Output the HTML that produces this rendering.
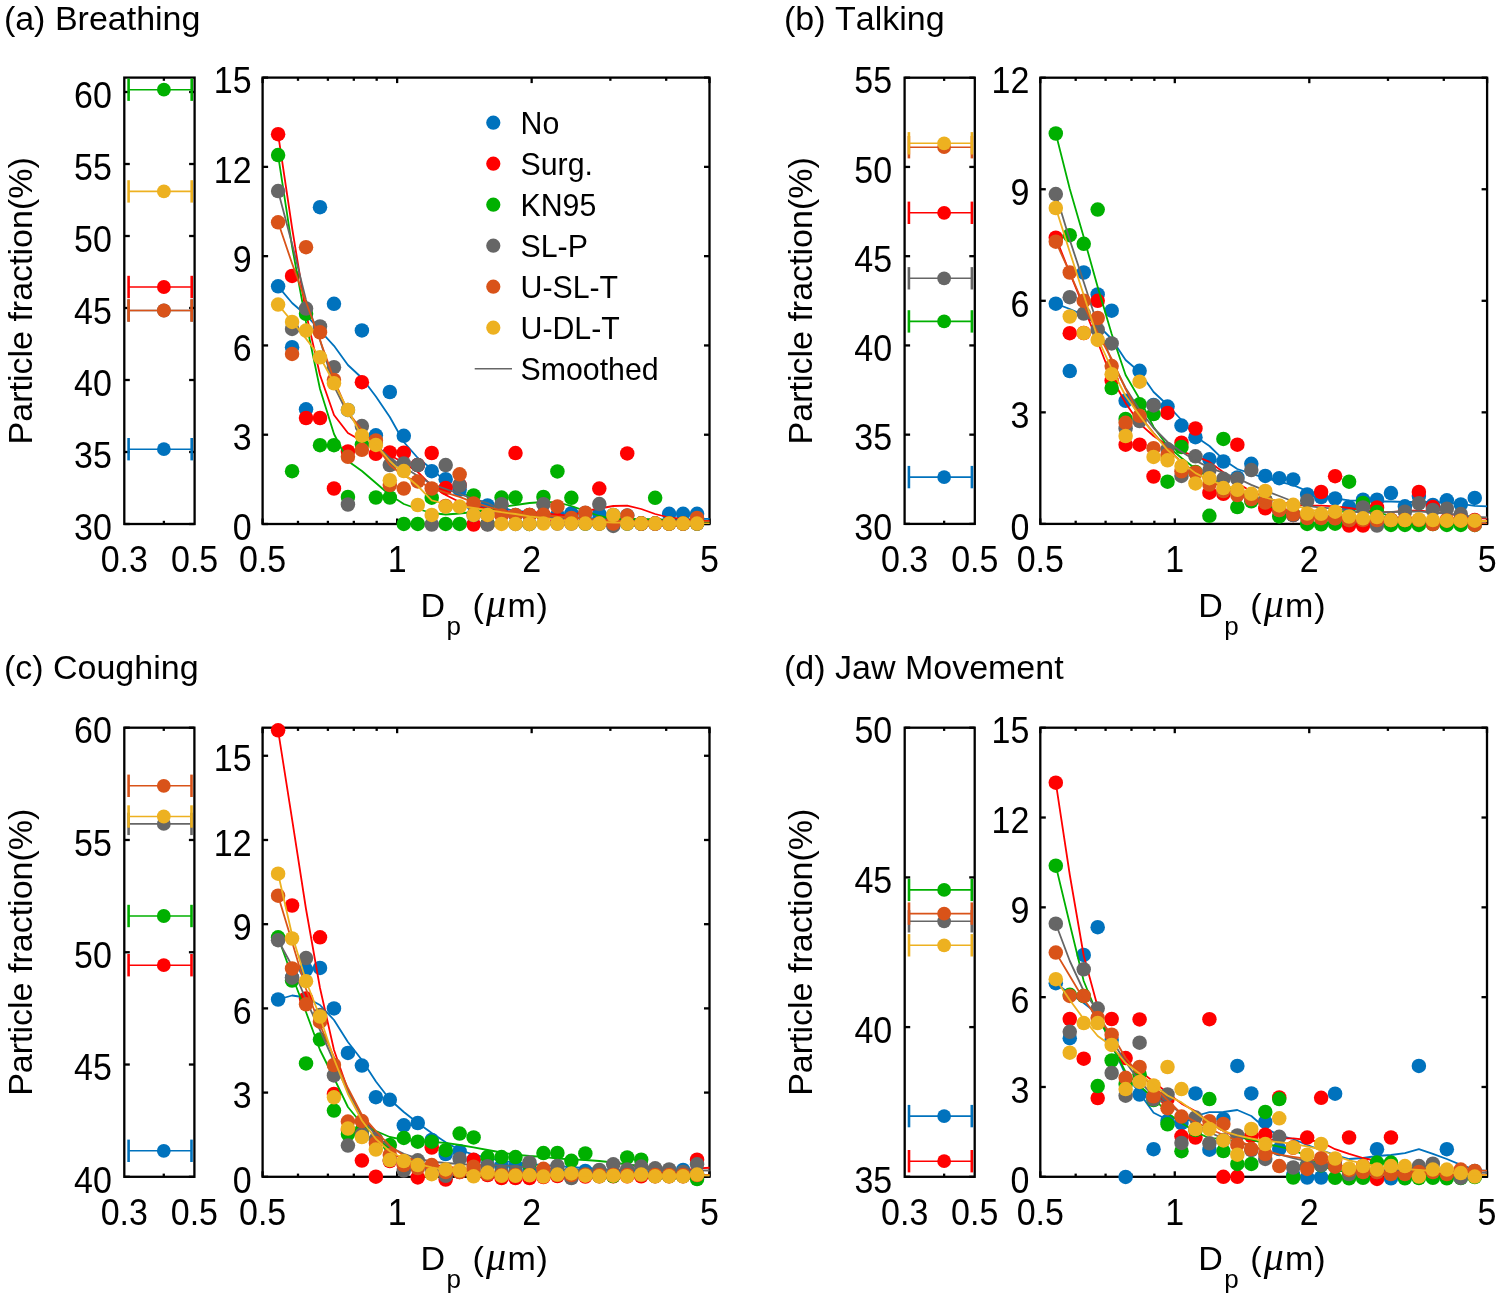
<!DOCTYPE html>
<html><head><meta charset="utf-8"><style>
html,body{margin:0;padding:0;background:#fff;}
svg{display:block;will-change:transform;}
.t{font-family:"Liberation Sans", sans-serif;font-size:34px;fill:#000;font-kerning:none;}
.l{font-family:"Liberation Sans", sans-serif;font-size:30.3px;fill:#000;font-kerning:none;}
.ax{stroke:#000;stroke-width:2.3;}
.fr{fill:none;stroke:#000;stroke-width:2.3;}
</style></head><body>
<svg width="1499" height="1298" viewBox="0 0 1499 1298">
<rect width="1499" height="1298" fill="#fff"/>
<text x="3.9" y="30.1" class="t">(a) Breathing</text>
<text transform="translate(31.6,300.8) rotate(-90)" text-anchor="middle" class="t">Particle fraction(%)</text>
<text x="420.6" y="617.2" class="t">D</text>
<text x="446.6" y="634.9" class="t" style="font-size:26px">p</text>
<text x="472.6" y="617.2" class="t">(</text>
<text x="486.0" y="617.2" class="t" style="font-family:&quot;Liberation Serif&quot;,serif;font-style:italic;font-size:40px">μ</text>
<text x="507.4" y="617.2" class="t">m</text>
<text x="536.5" y="617.2" class="t">)</text>
<clipPath id="clipa"><rect x="262.6" y="77.6" width="446.90" height="446.40"/></clipPath>
<rect x="124.3" y="77.6" width="70.30" height="446.40" class="fr"/>
<rect x="262.6" y="77.6" width="446.90" height="446.40" class="fr"/>
<line x1="262.6" y1="524.00" x2="268.1" y2="524.00" class="ax"/>
<line x1="709.5" y1="524.00" x2="704.0" y2="524.00" class="ax"/>
<text transform="translate(251.60,539.70) scale(1,1.088)" text-anchor="end" class="t">0</text>
<line x1="262.6" y1="434.72" x2="268.1" y2="434.72" class="ax"/>
<line x1="709.5" y1="434.72" x2="704.0" y2="434.72" class="ax"/>
<text transform="translate(251.60,450.42) scale(1,1.088)" text-anchor="end" class="t">3</text>
<line x1="262.6" y1="345.44" x2="268.1" y2="345.44" class="ax"/>
<line x1="709.5" y1="345.44" x2="704.0" y2="345.44" class="ax"/>
<text transform="translate(251.60,361.14) scale(1,1.088)" text-anchor="end" class="t">6</text>
<line x1="262.6" y1="256.16" x2="268.1" y2="256.16" class="ax"/>
<line x1="709.5" y1="256.16" x2="704.0" y2="256.16" class="ax"/>
<text transform="translate(251.60,271.86) scale(1,1.088)" text-anchor="end" class="t">9</text>
<line x1="262.6" y1="166.88" x2="268.1" y2="166.88" class="ax"/>
<line x1="709.5" y1="166.88" x2="704.0" y2="166.88" class="ax"/>
<text transform="translate(251.60,182.58) scale(1,1.088)" text-anchor="end" class="t">12</text>
<line x1="262.6" y1="77.60" x2="268.1" y2="77.60" class="ax"/>
<line x1="709.5" y1="77.60" x2="704.0" y2="77.60" class="ax"/>
<text transform="translate(251.60,93.30) scale(1,1.088)" text-anchor="end" class="t">15</text>
<line x1="262.60" y1="524.0" x2="262.60" y2="518.5" class="ax"/>
<line x1="262.60" y1="77.6" x2="262.60" y2="83.1" class="ax"/>
<line x1="297.99" y1="524.0" x2="297.99" y2="520.8" class="ax"/>
<line x1="297.99" y1="77.6" x2="297.99" y2="80.8" class="ax"/>
<line x1="327.90" y1="524.0" x2="327.90" y2="520.8" class="ax"/>
<line x1="327.90" y1="77.6" x2="327.90" y2="80.8" class="ax"/>
<line x1="353.82" y1="524.0" x2="353.82" y2="520.8" class="ax"/>
<line x1="353.82" y1="77.6" x2="353.82" y2="80.8" class="ax"/>
<line x1="376.68" y1="524.0" x2="376.68" y2="520.8" class="ax"/>
<line x1="376.68" y1="77.6" x2="376.68" y2="80.8" class="ax"/>
<line x1="397.13" y1="524.0" x2="397.13" y2="518.5" class="ax"/>
<line x1="397.13" y1="77.6" x2="397.13" y2="83.1" class="ax"/>
<line x1="531.66" y1="524.0" x2="531.66" y2="518.5" class="ax"/>
<line x1="531.66" y1="77.6" x2="531.66" y2="83.1" class="ax"/>
<line x1="610.36" y1="524.0" x2="610.36" y2="520.8" class="ax"/>
<line x1="610.36" y1="77.6" x2="610.36" y2="80.8" class="ax"/>
<line x1="666.19" y1="524.0" x2="666.19" y2="520.8" class="ax"/>
<line x1="666.19" y1="77.6" x2="666.19" y2="80.8" class="ax"/>
<line x1="709.50" y1="524.0" x2="709.50" y2="518.5" class="ax"/>
<line x1="709.50" y1="77.6" x2="709.50" y2="83.1" class="ax"/>
<text transform="translate(262.60,572.40) scale(1,1.088)" text-anchor="middle" class="t">0.5</text>
<text transform="translate(397.13,572.40) scale(1,1.088)" text-anchor="middle" class="t">1</text>
<text transform="translate(531.66,572.40) scale(1,1.088)" text-anchor="middle" class="t">2</text>
<text transform="translate(709.50,572.40) scale(1,1.088)" text-anchor="middle" class="t">5</text>
<line x1="124.3" y1="524.00" x2="129.8" y2="524.00" class="ax"/>
<line x1="194.6" y1="524.00" x2="189.1" y2="524.00" class="ax"/>
<text transform="translate(111.80,539.70) scale(1,1.088)" text-anchor="end" class="t">30</text>
<line x1="124.3" y1="452.00" x2="129.8" y2="452.00" class="ax"/>
<line x1="194.6" y1="452.00" x2="189.1" y2="452.00" class="ax"/>
<text transform="translate(111.80,467.70) scale(1,1.088)" text-anchor="end" class="t">35</text>
<line x1="124.3" y1="380.00" x2="129.8" y2="380.00" class="ax"/>
<line x1="194.6" y1="380.00" x2="189.1" y2="380.00" class="ax"/>
<text transform="translate(111.80,395.70) scale(1,1.088)" text-anchor="end" class="t">40</text>
<line x1="124.3" y1="308.00" x2="129.8" y2="308.00" class="ax"/>
<line x1="194.6" y1="308.00" x2="189.1" y2="308.00" class="ax"/>
<text transform="translate(111.80,323.70) scale(1,1.088)" text-anchor="end" class="t">45</text>
<line x1="124.3" y1="236.00" x2="129.8" y2="236.00" class="ax"/>
<line x1="194.6" y1="236.00" x2="189.1" y2="236.00" class="ax"/>
<text transform="translate(111.80,251.70) scale(1,1.088)" text-anchor="end" class="t">50</text>
<line x1="124.3" y1="164.00" x2="129.8" y2="164.00" class="ax"/>
<line x1="194.6" y1="164.00" x2="189.1" y2="164.00" class="ax"/>
<text transform="translate(111.80,179.70) scale(1,1.088)" text-anchor="end" class="t">55</text>
<line x1="124.3" y1="92.00" x2="129.8" y2="92.00" class="ax"/>
<line x1="194.6" y1="92.00" x2="189.1" y2="92.00" class="ax"/>
<text transform="translate(111.80,107.70) scale(1,1.088)" text-anchor="end" class="t">60</text>
<line x1="163.89" y1="524.0" x2="163.89" y2="520.8" class="ax"/>
<line x1="163.89" y1="77.6" x2="163.89" y2="80.8" class="ax"/>
<text transform="translate(124.30,572.40) scale(1,1.088)" text-anchor="middle" class="t">0.3</text>
<text transform="translate(194.60,572.40) scale(1,1.088)" text-anchor="middle" class="t">0.5</text>
<g stroke="#0072BD" fill="#0072BD"><line x1="128.6" y1="449.2" x2="191.7" y2="449.2" stroke-width="1.6"/><line x1="128.6" y1="438.0" x2="128.6" y2="460.4" stroke-width="2.6"/><line x1="191.7" y1="438.0" x2="191.7" y2="460.4" stroke-width="2.6"/><circle cx="163.89" cy="449.2" r="6.9" stroke="none"/></g>
<g stroke="#FF0000" fill="#FF0000"><line x1="128.6" y1="287.0" x2="191.7" y2="287.0" stroke-width="1.6"/><line x1="128.6" y1="275.8" x2="128.6" y2="298.2" stroke-width="2.6"/><line x1="191.7" y1="275.8" x2="191.7" y2="298.2" stroke-width="2.6"/><circle cx="163.89" cy="287.0" r="6.9" stroke="none"/></g>
<g stroke="#00B000" fill="#00B000"><line x1="128.6" y1="89.7" x2="191.7" y2="89.7" stroke-width="1.6"/><line x1="128.6" y1="78.5" x2="128.6" y2="100.9" stroke-width="2.6"/><line x1="191.7" y1="78.5" x2="191.7" y2="100.9" stroke-width="2.6"/><circle cx="163.89" cy="89.7" r="6.9" stroke="none"/></g>
<g stroke="#666666" fill="#666666"><line x1="128.6" y1="310.5" x2="191.7" y2="310.5" stroke-width="1.6"/><line x1="128.6" y1="299.3" x2="128.6" y2="321.7" stroke-width="2.6"/><line x1="191.7" y1="299.3" x2="191.7" y2="321.7" stroke-width="2.6"/><circle cx="163.89" cy="310.5" r="6.9" stroke="none"/></g>
<g stroke="#D95319" fill="#D95319"><line x1="128.6" y1="310.5" x2="191.7" y2="310.5" stroke-width="1.6"/><line x1="128.6" y1="299.3" x2="128.6" y2="321.7" stroke-width="2.6"/><line x1="191.7" y1="299.3" x2="191.7" y2="321.7" stroke-width="2.6"/><circle cx="163.89" cy="310.5" r="6.9" stroke="none"/></g>
<g stroke="#EDB120" fill="#EDB120"><line x1="128.6" y1="191.4" x2="191.7" y2="191.4" stroke-width="1.6"/><line x1="128.6" y1="180.2" x2="128.6" y2="202.6" stroke-width="2.6"/><line x1="191.7" y1="180.2" x2="191.7" y2="202.6" stroke-width="2.6"/><circle cx="163.89" cy="191.4" r="6.9" stroke="none"/></g>
<g fill="#0072BD"><circle cx="278.10" cy="286.3" r="7.25"/><circle cx="292.06" cy="347.2" r="7.25"/><circle cx="306.03" cy="409.3" r="7.25"/><circle cx="320.00" cy="207.2" r="7.25"/><circle cx="333.96" cy="303.8" r="7.25"/><circle cx="347.93" cy="409.9" r="7.25"/><circle cx="361.89" cy="330.4" r="7.25"/><circle cx="375.86" cy="435.3" r="7.25"/><circle cx="389.82" cy="392.0" r="7.25"/><circle cx="403.79" cy="435.8" r="7.25"/><circle cx="417.75" cy="465.1" r="7.25"/><circle cx="431.72" cy="471.2" r="7.25"/><circle cx="445.68" cy="479.2" r="7.25"/><circle cx="459.64" cy="489.7" r="7.25"/><circle cx="473.61" cy="505.0" r="7.25"/><circle cx="487.58" cy="505.4" r="7.25"/><circle cx="501.54" cy="512.0" r="7.25"/><circle cx="515.50" cy="515.0" r="7.25"/><circle cx="529.47" cy="515.0" r="7.25"/><circle cx="543.43" cy="515.0" r="7.25"/><circle cx="557.40" cy="515.0" r="7.25"/><circle cx="571.37" cy="513.3" r="7.25"/><circle cx="585.33" cy="513.0" r="7.25"/><circle cx="599.30" cy="513.8" r="7.25"/><circle cx="613.26" cy="515.0" r="7.25"/><circle cx="627.23" cy="515.6" r="7.25"/><circle cx="641.19" cy="523.6" r="7.25"/><circle cx="655.15" cy="523.6" r="7.25"/><circle cx="669.12" cy="513.8" r="7.25"/><circle cx="683.09" cy="513.8" r="7.25"/><circle cx="697.05" cy="513.8" r="7.25"/></g>
<polyline points="278.1,286.3 292.1,303.0 306.0,315.0 320.0,330.5 334.0,345.8 347.9,365.0 361.9,378.0 375.9,396.5 389.8,417.0 403.8,442.0 417.8,458.0 431.7,469.0 445.7,481.6 459.6,492.0 473.6,498.0 487.6,503.8 501.5,508.0 515.5,510.8 529.5,512.0 543.4,514.3 557.4,516.0 571.4,516.9 585.3,518.0 599.3,518.3 613.3,519.0 627.2,519.8 641.2,520.0 655.2,519.7 669.1,519.5 683.1,519.4 697.0,519.0 711.0,518.9" fill="none" stroke="#0072BD" stroke-width="1.8" stroke-linejoin="round" clip-path="url(#clipa)"/>
<g fill="#FF0000"><circle cx="278.10" cy="134.2" r="7.25"/><circle cx="292.06" cy="275.9" r="7.25"/><circle cx="306.03" cy="418.0" r="7.25"/><circle cx="320.00" cy="418.0" r="7.25"/><circle cx="333.96" cy="488.5" r="7.25"/><circle cx="347.93" cy="451.5" r="7.25"/><circle cx="361.89" cy="382.2" r="7.25"/><circle cx="375.86" cy="453.8" r="7.25"/><circle cx="389.82" cy="452.5" r="7.25"/><circle cx="403.79" cy="452.7" r="7.25"/><circle cx="417.75" cy="465.0" r="7.25"/><circle cx="431.72" cy="453.0" r="7.25"/><circle cx="445.68" cy="487.9" r="7.25"/><circle cx="459.64" cy="485.0" r="7.25"/><circle cx="473.61" cy="524.5" r="7.25"/><circle cx="487.58" cy="524.0" r="7.25"/><circle cx="501.54" cy="515.0" r="7.25"/><circle cx="515.50" cy="453.1" r="7.25"/><circle cx="529.47" cy="515.0" r="7.25"/><circle cx="543.43" cy="515.0" r="7.25"/><circle cx="557.40" cy="520.0" r="7.25"/><circle cx="571.37" cy="523.0" r="7.25"/><circle cx="585.33" cy="523.0" r="7.25"/><circle cx="599.30" cy="488.6" r="7.25"/><circle cx="613.26" cy="520.0" r="7.25"/><circle cx="627.23" cy="453.4" r="7.25"/><circle cx="641.19" cy="523.6" r="7.25"/><circle cx="655.15" cy="523.6" r="7.25"/><circle cx="669.12" cy="523.6" r="7.25"/><circle cx="683.09" cy="523.6" r="7.25"/><circle cx="697.05" cy="523.6" r="7.25"/></g>
<polyline points="278.1,134.2 292.1,228.0 306.0,313.0 320.0,375.0 334.0,415.0 347.9,433.0 361.9,441.0 375.9,448.0 389.8,455.0 403.8,463.0 417.8,472.0 431.7,486.0 445.7,495.0 459.6,502.0 473.6,506.0 487.6,509.0 501.5,511.0 515.5,512.0 529.5,512.0 543.4,512.9 557.4,514.8 571.4,515.3 585.3,511.0 599.3,508.5 613.3,506.0 627.2,505.6 641.2,509.0 655.2,514.0 669.1,517.5 683.1,519.1 697.0,520.6 711.0,521.0" fill="none" stroke="#FF0000" stroke-width="1.8" stroke-linejoin="round" clip-path="url(#clipa)"/>
<g fill="#00B000"><circle cx="278.10" cy="155.1" r="7.25"/><circle cx="292.06" cy="471.2" r="7.25"/><circle cx="306.03" cy="313.8" r="7.25"/><circle cx="320.00" cy="445.2" r="7.25"/><circle cx="333.96" cy="445.2" r="7.25"/><circle cx="347.93" cy="497.0" r="7.25"/><circle cx="361.89" cy="444.6" r="7.25"/><circle cx="375.86" cy="497.5" r="7.25"/><circle cx="389.82" cy="497.5" r="7.25"/><circle cx="403.79" cy="523.9" r="7.25"/><circle cx="417.75" cy="523.9" r="7.25"/><circle cx="431.72" cy="497.7" r="7.25"/><circle cx="445.68" cy="523.9" r="7.25"/><circle cx="459.64" cy="523.9" r="7.25"/><circle cx="473.61" cy="495.5" r="7.25"/><circle cx="487.58" cy="523.9" r="7.25"/><circle cx="501.54" cy="497.6" r="7.25"/><circle cx="515.50" cy="497.6" r="7.25"/><circle cx="529.47" cy="523.9" r="7.25"/><circle cx="543.43" cy="497.0" r="7.25"/><circle cx="557.40" cy="471.4" r="7.25"/><circle cx="571.37" cy="497.8" r="7.25"/><circle cx="585.33" cy="523.6" r="7.25"/><circle cx="599.30" cy="523.6" r="7.25"/><circle cx="613.26" cy="523.6" r="7.25"/><circle cx="627.23" cy="523.6" r="7.25"/><circle cx="641.19" cy="523.6" r="7.25"/><circle cx="655.15" cy="497.8" r="7.25"/><circle cx="669.12" cy="523.6" r="7.25"/><circle cx="683.09" cy="523.6" r="7.25"/><circle cx="697.05" cy="523.6" r="7.25"/></g>
<polyline points="278.1,155.1 292.1,246.8 306.0,322.0 320.0,389.0 334.0,434.0 347.9,461.0 361.9,471.0 375.9,483.0 389.8,495.0 403.8,504.0 417.8,509.0 431.7,513.0 445.7,514.5 459.6,513.5 473.6,512.0 487.6,510.0 501.5,507.0 515.5,505.0 529.5,503.0 543.4,502.0 557.4,502.4 571.4,506.0 585.3,511.0 599.3,516.0 613.3,518.8 627.2,519.0 641.2,518.9 655.2,519.4 669.1,520.2 683.1,521.3 697.0,522.6 711.0,523.0" fill="none" stroke="#00B000" stroke-width="1.8" stroke-linejoin="round" clip-path="url(#clipa)"/>
<g fill="#666666"><circle cx="278.10" cy="191.1" r="7.25"/><circle cx="292.06" cy="328.9" r="7.25"/><circle cx="306.03" cy="308.6" r="7.25"/><circle cx="320.00" cy="326.5" r="7.25"/><circle cx="333.96" cy="367.2" r="7.25"/><circle cx="347.93" cy="504.5" r="7.25"/><circle cx="361.89" cy="426.1" r="7.25"/><circle cx="375.86" cy="443.0" r="7.25"/><circle cx="389.82" cy="465.0" r="7.25"/><circle cx="403.79" cy="463.5" r="7.25"/><circle cx="417.75" cy="465.1" r="7.25"/><circle cx="431.72" cy="524.5" r="7.25"/><circle cx="445.68" cy="465.1" r="7.25"/><circle cx="459.64" cy="485.5" r="7.25"/><circle cx="473.61" cy="515.0" r="7.25"/><circle cx="487.58" cy="524.5" r="7.25"/><circle cx="501.54" cy="504.2" r="7.25"/><circle cx="515.50" cy="523.9" r="7.25"/><circle cx="529.47" cy="523.9" r="7.25"/><circle cx="543.43" cy="504.2" r="7.25"/><circle cx="557.40" cy="523.6" r="7.25"/><circle cx="571.37" cy="523.6" r="7.25"/><circle cx="585.33" cy="523.6" r="7.25"/><circle cx="599.30" cy="504.1" r="7.25"/><circle cx="613.26" cy="525.9" r="7.25"/><circle cx="627.23" cy="523.6" r="7.25"/><circle cx="641.19" cy="523.6" r="7.25"/><circle cx="655.15" cy="523.6" r="7.25"/><circle cx="669.12" cy="523.6" r="7.25"/><circle cx="683.09" cy="523.6" r="7.25"/><circle cx="697.05" cy="523.6" r="7.25"/></g>
<polyline points="278.1,191.1 292.1,243.9 306.0,300.0 320.0,340.0 334.0,386.0 347.9,414.0 361.9,430.0 375.9,445.0 389.8,458.0 403.8,467.0 417.8,476.0 431.7,484.0 445.7,489.0 459.6,494.0 473.6,499.0 487.6,503.0 501.5,510.0 515.5,514.3 529.5,516.4 543.4,517.6 557.4,518.0 571.4,518.0 585.3,518.9 599.3,520.1 613.3,520.6 627.2,521.2 641.2,522.3 655.2,523.0 669.1,523.6 683.1,524.0 697.0,524.4 711.0,524.5" fill="none" stroke="#666666" stroke-width="1.8" stroke-linejoin="round" clip-path="url(#clipa)"/>
<g fill="#D95319"><circle cx="278.10" cy="222.3" r="7.25"/><circle cx="292.06" cy="353.9" r="7.25"/><circle cx="306.03" cy="247.2" r="7.25"/><circle cx="320.00" cy="332.3" r="7.25"/><circle cx="333.96" cy="380.0" r="7.25"/><circle cx="347.93" cy="456.8" r="7.25"/><circle cx="361.89" cy="449.8" r="7.25"/><circle cx="375.86" cy="440.5" r="7.25"/><circle cx="389.82" cy="485.0" r="7.25"/><circle cx="403.79" cy="488.6" r="7.25"/><circle cx="417.75" cy="481.4" r="7.25"/><circle cx="431.72" cy="488.5" r="7.25"/><circle cx="445.68" cy="506.0" r="7.25"/><circle cx="459.64" cy="474.3" r="7.25"/><circle cx="473.61" cy="503.5" r="7.25"/><circle cx="487.58" cy="514.9" r="7.25"/><circle cx="501.54" cy="515.5" r="7.25"/><circle cx="515.50" cy="514.9" r="7.25"/><circle cx="529.47" cy="514.9" r="7.25"/><circle cx="543.43" cy="514.7" r="7.25"/><circle cx="557.40" cy="506.5" r="7.25"/><circle cx="571.37" cy="518.0" r="7.25"/><circle cx="585.33" cy="512.7" r="7.25"/><circle cx="599.30" cy="523.6" r="7.25"/><circle cx="613.26" cy="523.6" r="7.25"/><circle cx="627.23" cy="515.6" r="7.25"/><circle cx="641.19" cy="523.6" r="7.25"/><circle cx="655.15" cy="523.6" r="7.25"/><circle cx="669.12" cy="523.6" r="7.25"/><circle cx="683.09" cy="523.6" r="7.25"/><circle cx="697.05" cy="517.9" r="7.25"/></g>
<polyline points="278.1,222.3 292.1,263.5 306.0,302.0 320.0,340.0 334.0,379.5 347.9,412.0 361.9,430.0 375.9,445.0 389.8,465.0 403.8,476.0 417.8,481.6 431.7,487.8 445.7,492.7 459.6,496.9 473.6,502.4 487.6,506.6 501.5,510.7 515.5,513.2 529.5,514.0 543.4,515.0 557.4,516.5 571.4,517.5 585.3,518.6 599.3,520.0 613.3,520.9 627.2,521.5 641.2,521.5 655.2,521.5 669.1,521.5 683.1,521.5 697.0,521.5 711.0,521.5" fill="none" stroke="#D95319" stroke-width="1.8" stroke-linejoin="round" clip-path="url(#clipa)"/>
<g fill="#EDB120"><circle cx="278.10" cy="304.6" r="7.25"/><circle cx="292.06" cy="321.9" r="7.25"/><circle cx="306.03" cy="330.6" r="7.25"/><circle cx="320.00" cy="357.3" r="7.25"/><circle cx="333.96" cy="383.3" r="7.25"/><circle cx="347.93" cy="409.9" r="7.25"/><circle cx="361.89" cy="435.7" r="7.25"/><circle cx="375.86" cy="444.9" r="7.25"/><circle cx="389.82" cy="480.2" r="7.25"/><circle cx="403.79" cy="471.1" r="7.25"/><circle cx="417.75" cy="505.0" r="7.25"/><circle cx="431.72" cy="514.9" r="7.25"/><circle cx="445.68" cy="506.6" r="7.25"/><circle cx="459.64" cy="506.6" r="7.25"/><circle cx="473.61" cy="514.9" r="7.25"/><circle cx="487.58" cy="514.9" r="7.25"/><circle cx="501.54" cy="523.9" r="7.25"/><circle cx="515.50" cy="523.9" r="7.25"/><circle cx="529.47" cy="523.9" r="7.25"/><circle cx="543.43" cy="523.6" r="7.25"/><circle cx="557.40" cy="523.6" r="7.25"/><circle cx="571.37" cy="523.6" r="7.25"/><circle cx="585.33" cy="523.6" r="7.25"/><circle cx="599.30" cy="523.6" r="7.25"/><circle cx="613.26" cy="515.0" r="7.25"/><circle cx="627.23" cy="523.6" r="7.25"/><circle cx="641.19" cy="523.6" r="7.25"/><circle cx="655.15" cy="523.6" r="7.25"/><circle cx="669.12" cy="523.6" r="7.25"/><circle cx="683.09" cy="523.6" r="7.25"/><circle cx="697.05" cy="523.6" r="7.25"/></g>
<polyline points="278.1,304.6 292.1,321.5 306.0,338.6 320.0,357.0 334.0,383.0 347.9,410.0 361.9,436.3 375.9,444.7 389.8,461.0 403.8,474.0 417.8,486.0 431.7,500.3 445.7,504.0 459.6,506.0 473.6,508.0 487.6,510.0 501.5,512.2 515.5,514.0 529.5,516.3 543.4,518.0 557.4,519.8 571.4,521.0 585.3,521.2 599.3,521.8 613.3,522.5 627.2,522.6 641.2,522.9 655.2,523.5 669.1,523.7 683.1,523.9 697.0,524.0 711.0,524.0" fill="none" stroke="#EDB120" stroke-width="1.8" stroke-linejoin="round" clip-path="url(#clipa)"/>
<text x="784.0" y="30.1" class="t">(b) Talking</text>
<text transform="translate(811.6,300.8) rotate(-90)" text-anchor="middle" class="t">Particle fraction(%)</text>
<text x="1198.3" y="617.2" class="t">D</text>
<text x="1224.3" y="634.9" class="t" style="font-size:26px">p</text>
<text x="1250.3" y="617.2" class="t">(</text>
<text x="1263.7" y="617.2" class="t" style="font-family:&quot;Liberation Serif&quot;,serif;font-style:italic;font-size:40px">μ</text>
<text x="1285.1" y="617.2" class="t">m</text>
<text x="1314.2" y="617.2" class="t">)</text>
<clipPath id="clipb"><rect x="1040.3" y="77.7" width="446.80" height="446.20"/></clipPath>
<rect x="904.6" y="77.7" width="70.20" height="446.20" class="fr"/>
<rect x="1040.3" y="77.7" width="446.80" height="446.20" class="fr"/>
<line x1="1040.3" y1="523.90" x2="1045.8" y2="523.90" class="ax"/>
<line x1="1487.1" y1="523.90" x2="1481.6" y2="523.90" class="ax"/>
<text transform="translate(1029.30,539.60) scale(1,1.088)" text-anchor="end" class="t">0</text>
<line x1="1040.3" y1="412.35" x2="1045.8" y2="412.35" class="ax"/>
<line x1="1487.1" y1="412.35" x2="1481.6" y2="412.35" class="ax"/>
<text transform="translate(1029.30,428.05) scale(1,1.088)" text-anchor="end" class="t">3</text>
<line x1="1040.3" y1="300.80" x2="1045.8" y2="300.80" class="ax"/>
<line x1="1487.1" y1="300.80" x2="1481.6" y2="300.80" class="ax"/>
<text transform="translate(1029.30,316.50) scale(1,1.088)" text-anchor="end" class="t">6</text>
<line x1="1040.3" y1="189.25" x2="1045.8" y2="189.25" class="ax"/>
<line x1="1487.1" y1="189.25" x2="1481.6" y2="189.25" class="ax"/>
<text transform="translate(1029.30,204.95) scale(1,1.088)" text-anchor="end" class="t">9</text>
<line x1="1040.3" y1="77.70" x2="1045.8" y2="77.70" class="ax"/>
<line x1="1487.1" y1="77.70" x2="1481.6" y2="77.70" class="ax"/>
<text transform="translate(1029.30,93.40) scale(1,1.088)" text-anchor="end" class="t">12</text>
<line x1="1040.30" y1="523.9" x2="1040.30" y2="518.4" class="ax"/>
<line x1="1040.30" y1="77.7" x2="1040.30" y2="83.2" class="ax"/>
<line x1="1075.68" y1="523.9" x2="1075.68" y2="520.6999999999999" class="ax"/>
<line x1="1075.68" y1="77.7" x2="1075.68" y2="80.9" class="ax"/>
<line x1="1105.59" y1="523.9" x2="1105.59" y2="520.6999999999999" class="ax"/>
<line x1="1105.59" y1="77.7" x2="1105.59" y2="80.9" class="ax"/>
<line x1="1131.50" y1="523.9" x2="1131.50" y2="520.6999999999999" class="ax"/>
<line x1="1131.50" y1="77.7" x2="1131.50" y2="80.9" class="ax"/>
<line x1="1154.36" y1="523.9" x2="1154.36" y2="520.6999999999999" class="ax"/>
<line x1="1154.36" y1="77.7" x2="1154.36" y2="80.9" class="ax"/>
<line x1="1174.80" y1="523.9" x2="1174.80" y2="518.4" class="ax"/>
<line x1="1174.80" y1="77.7" x2="1174.80" y2="83.2" class="ax"/>
<line x1="1309.30" y1="523.9" x2="1309.30" y2="518.4" class="ax"/>
<line x1="1309.30" y1="77.7" x2="1309.30" y2="83.2" class="ax"/>
<line x1="1387.98" y1="523.9" x2="1387.98" y2="520.6999999999999" class="ax"/>
<line x1="1387.98" y1="77.7" x2="1387.98" y2="80.9" class="ax"/>
<line x1="1443.80" y1="523.9" x2="1443.80" y2="520.6999999999999" class="ax"/>
<line x1="1443.80" y1="77.7" x2="1443.80" y2="80.9" class="ax"/>
<line x1="1487.10" y1="523.9" x2="1487.10" y2="518.4" class="ax"/>
<line x1="1487.10" y1="77.7" x2="1487.10" y2="83.2" class="ax"/>
<text transform="translate(1040.30,572.30) scale(1,1.088)" text-anchor="middle" class="t">0.5</text>
<text transform="translate(1174.80,572.30) scale(1,1.088)" text-anchor="middle" class="t">1</text>
<text transform="translate(1309.30,572.30) scale(1,1.088)" text-anchor="middle" class="t">2</text>
<text transform="translate(1487.10,572.30) scale(1,1.088)" text-anchor="middle" class="t">5</text>
<line x1="904.6" y1="523.90" x2="910.1" y2="523.90" class="ax"/>
<line x1="974.8" y1="523.90" x2="969.3" y2="523.90" class="ax"/>
<text transform="translate(892.10,539.60) scale(1,1.088)" text-anchor="end" class="t">30</text>
<line x1="904.6" y1="434.66" x2="910.1" y2="434.66" class="ax"/>
<line x1="974.8" y1="434.66" x2="969.3" y2="434.66" class="ax"/>
<text transform="translate(892.10,450.36) scale(1,1.088)" text-anchor="end" class="t">35</text>
<line x1="904.6" y1="345.42" x2="910.1" y2="345.42" class="ax"/>
<line x1="974.8" y1="345.42" x2="969.3" y2="345.42" class="ax"/>
<text transform="translate(892.10,361.12) scale(1,1.088)" text-anchor="end" class="t">40</text>
<line x1="904.6" y1="256.18" x2="910.1" y2="256.18" class="ax"/>
<line x1="974.8" y1="256.18" x2="969.3" y2="256.18" class="ax"/>
<text transform="translate(892.10,271.88) scale(1,1.088)" text-anchor="end" class="t">45</text>
<line x1="904.6" y1="166.94" x2="910.1" y2="166.94" class="ax"/>
<line x1="974.8" y1="166.94" x2="969.3" y2="166.94" class="ax"/>
<text transform="translate(892.10,182.64) scale(1,1.088)" text-anchor="end" class="t">50</text>
<line x1="904.6" y1="77.70" x2="910.1" y2="77.70" class="ax"/>
<line x1="974.8" y1="77.70" x2="969.3" y2="77.70" class="ax"/>
<text transform="translate(892.10,93.40) scale(1,1.088)" text-anchor="end" class="t">55</text>
<line x1="944.13" y1="523.9" x2="944.13" y2="520.6999999999999" class="ax"/>
<line x1="944.13" y1="77.7" x2="944.13" y2="80.9" class="ax"/>
<text transform="translate(904.60,572.30) scale(1,1.088)" text-anchor="middle" class="t">0.3</text>
<text transform="translate(974.80,572.30) scale(1,1.088)" text-anchor="middle" class="t">0.5</text>
<g stroke="#0072BD" fill="#0072BD"><line x1="908.9" y1="477.1" x2="971.9" y2="477.1" stroke-width="1.6"/><line x1="908.9" y1="465.9" x2="908.9" y2="488.3" stroke-width="2.6"/><line x1="971.9" y1="465.9" x2="971.9" y2="488.3" stroke-width="2.6"/><circle cx="944.13" cy="477.1" r="6.9" stroke="none"/></g>
<g stroke="#FF0000" fill="#FF0000"><line x1="908.9" y1="212.8" x2="971.9" y2="212.8" stroke-width="1.6"/><line x1="908.9" y1="201.6" x2="908.9" y2="224.0" stroke-width="2.6"/><line x1="971.9" y1="201.6" x2="971.9" y2="224.0" stroke-width="2.6"/><circle cx="944.13" cy="212.8" r="6.9" stroke="none"/></g>
<g stroke="#00B000" fill="#00B000"><line x1="908.9" y1="321.4" x2="971.9" y2="321.4" stroke-width="1.6"/><line x1="908.9" y1="310.2" x2="908.9" y2="332.6" stroke-width="2.6"/><line x1="971.9" y1="310.2" x2="971.9" y2="332.6" stroke-width="2.6"/><circle cx="944.13" cy="321.4" r="6.9" stroke="none"/></g>
<g stroke="#666666" fill="#666666"><line x1="908.9" y1="278.3" x2="971.9" y2="278.3" stroke-width="1.6"/><line x1="908.9" y1="267.1" x2="908.9" y2="289.5" stroke-width="2.6"/><line x1="971.9" y1="267.1" x2="971.9" y2="289.5" stroke-width="2.6"/><circle cx="944.13" cy="278.3" r="6.9" stroke="none"/></g>
<g stroke="#D95319" fill="#D95319"><line x1="908.9" y1="147.2" x2="971.9" y2="147.2" stroke-width="1.6"/><line x1="908.9" y1="136.0" x2="908.9" y2="158.4" stroke-width="2.6"/><line x1="971.9" y1="136.0" x2="971.9" y2="158.4" stroke-width="2.6"/><circle cx="944.13" cy="147.2" r="6.9" stroke="none"/></g>
<g stroke="#EDB120" fill="#EDB120"><line x1="908.9" y1="143.3" x2="971.9" y2="143.3" stroke-width="1.6"/><line x1="908.9" y1="132.1" x2="908.9" y2="154.5" stroke-width="2.6"/><line x1="971.9" y1="132.1" x2="971.9" y2="154.5" stroke-width="2.6"/><circle cx="944.13" cy="143.3" r="6.9" stroke="none"/></g>
<g fill="#0072BD"><circle cx="1055.80" cy="303.7" r="7.25"/><circle cx="1069.76" cy="371.1" r="7.25"/><circle cx="1083.73" cy="272.5" r="7.25"/><circle cx="1097.69" cy="294.5" r="7.25"/><circle cx="1111.66" cy="310.7" r="7.25"/><circle cx="1125.62" cy="400.8" r="7.25"/><circle cx="1139.59" cy="370.8" r="7.25"/><circle cx="1153.55" cy="405.0" r="7.25"/><circle cx="1167.52" cy="406.6" r="7.25"/><circle cx="1181.48" cy="425.6" r="7.25"/><circle cx="1195.45" cy="437.2" r="7.25"/><circle cx="1209.41" cy="459.2" r="7.25"/><circle cx="1223.38" cy="461.5" r="7.25"/><circle cx="1237.35" cy="477.5" r="7.25"/><circle cx="1251.31" cy="463.8" r="7.25"/><circle cx="1265.27" cy="475.9" r="7.25"/><circle cx="1279.24" cy="478.2" r="7.25"/><circle cx="1293.20" cy="479.4" r="7.25"/><circle cx="1307.17" cy="494.4" r="7.25"/><circle cx="1321.13" cy="497.0" r="7.25"/><circle cx="1335.10" cy="498.5" r="7.25"/><circle cx="1349.07" cy="506.9" r="7.25"/><circle cx="1363.03" cy="499.7" r="7.25"/><circle cx="1376.99" cy="499.7" r="7.25"/><circle cx="1390.96" cy="493.1" r="7.25"/><circle cx="1404.92" cy="506.3" r="7.25"/><circle cx="1418.89" cy="496.0" r="7.25"/><circle cx="1432.86" cy="505.0" r="7.25"/><circle cx="1446.82" cy="500.3" r="7.25"/><circle cx="1460.78" cy="504.5" r="7.25"/><circle cx="1474.75" cy="497.9" r="7.25"/></g>
<polyline points="1055.8,303.7 1069.8,309.0 1083.7,315.0 1097.7,325.0 1111.7,339.0 1125.6,360.0 1139.6,372.0 1153.6,392.0 1167.5,405.0 1181.5,420.0 1195.5,436.6 1209.4,446.0 1223.4,459.7 1237.3,469.0 1251.3,473.6 1265.3,478.2 1279.2,481.7 1293.2,485.2 1307.2,491.0 1321.1,496.0 1335.1,498.5 1349.1,500.3 1363.0,500.9 1377.0,501.5 1391.0,501.5 1404.9,502.0 1418.9,502.0 1432.9,502.0 1446.8,502.7 1460.8,503.9 1474.8,505.8 1488.7,506.4" fill="none" stroke="#0072BD" stroke-width="1.8" stroke-linejoin="round" clip-path="url(#clipb)"/>
<g fill="#FF0000"><circle cx="1055.80" cy="237.7" r="7.25"/><circle cx="1069.76" cy="333.2" r="7.25"/><circle cx="1083.73" cy="333.0" r="7.25"/><circle cx="1097.69" cy="300.8" r="7.25"/><circle cx="1111.66" cy="380.6" r="7.25"/><circle cx="1125.62" cy="444.7" r="7.25"/><circle cx="1139.59" cy="444.7" r="7.25"/><circle cx="1153.55" cy="476.5" r="7.25"/><circle cx="1167.52" cy="412.9" r="7.25"/><circle cx="1181.48" cy="442.7" r="7.25"/><circle cx="1195.45" cy="428.5" r="7.25"/><circle cx="1209.41" cy="492.7" r="7.25"/><circle cx="1223.38" cy="493.8" r="7.25"/><circle cx="1237.35" cy="444.7" r="7.25"/><circle cx="1251.31" cy="495.0" r="7.25"/><circle cx="1265.27" cy="508.3" r="7.25"/><circle cx="1279.24" cy="510.0" r="7.25"/><circle cx="1293.20" cy="515.0" r="7.25"/><circle cx="1307.17" cy="515.0" r="7.25"/><circle cx="1321.13" cy="492.0" r="7.25"/><circle cx="1335.10" cy="476.2" r="7.25"/><circle cx="1349.07" cy="525.5" r="7.25"/><circle cx="1363.03" cy="525.5" r="7.25"/><circle cx="1376.99" cy="507.5" r="7.25"/><circle cx="1390.96" cy="520.0" r="7.25"/><circle cx="1404.92" cy="520.0" r="7.25"/><circle cx="1418.89" cy="491.9" r="7.25"/><circle cx="1432.86" cy="506.9" r="7.25"/><circle cx="1446.82" cy="520.0" r="7.25"/><circle cx="1460.78" cy="520.0" r="7.25"/><circle cx="1474.75" cy="520.0" r="7.25"/></g>
<polyline points="1055.8,237.7 1069.8,273.0 1083.7,307.0 1097.7,342.0 1111.7,378.0 1125.6,403.0 1139.6,423.6 1153.6,436.0 1167.5,445.6 1181.5,451.7 1195.5,455.9 1209.4,461.9 1223.4,472.2 1237.3,483.0 1251.3,491.6 1265.3,497.4 1279.2,501.7 1293.2,504.4 1307.2,505.7 1321.1,505.7 1335.1,506.3 1349.1,508.0 1363.0,510.0 1377.0,511.9 1391.0,512.1 1404.9,510.9 1418.9,510.5 1432.9,512.1 1446.8,513.7 1460.8,515.7 1474.8,518.0 1488.7,518.7" fill="none" stroke="#FF0000" stroke-width="1.8" stroke-linejoin="round" clip-path="url(#clipb)"/>
<g fill="#00B000"><circle cx="1055.80" cy="133.5" r="7.25"/><circle cx="1069.76" cy="235.2" r="7.25"/><circle cx="1083.73" cy="243.8" r="7.25"/><circle cx="1097.69" cy="209.6" r="7.25"/><circle cx="1111.66" cy="388.1" r="7.25"/><circle cx="1125.62" cy="419.0" r="7.25"/><circle cx="1139.59" cy="404.3" r="7.25"/><circle cx="1153.55" cy="414.1" r="7.25"/><circle cx="1167.52" cy="481.7" r="7.25"/><circle cx="1181.48" cy="447.0" r="7.25"/><circle cx="1195.45" cy="472.0" r="7.25"/><circle cx="1209.41" cy="515.8" r="7.25"/><circle cx="1223.38" cy="438.9" r="7.25"/><circle cx="1237.35" cy="507.1" r="7.25"/><circle cx="1251.31" cy="501.3" r="7.25"/><circle cx="1265.27" cy="500.0" r="7.25"/><circle cx="1279.24" cy="516.4" r="7.25"/><circle cx="1293.20" cy="514.0" r="7.25"/><circle cx="1307.17" cy="523.9" r="7.25"/><circle cx="1321.13" cy="524.3" r="7.25"/><circle cx="1335.10" cy="523.7" r="7.25"/><circle cx="1349.07" cy="481.7" r="7.25"/><circle cx="1363.03" cy="503.0" r="7.25"/><circle cx="1376.99" cy="512.0" r="7.25"/><circle cx="1390.96" cy="524.9" r="7.25"/><circle cx="1404.92" cy="524.9" r="7.25"/><circle cx="1418.89" cy="524.9" r="7.25"/><circle cx="1432.86" cy="524.0" r="7.25"/><circle cx="1446.82" cy="524.9" r="7.25"/><circle cx="1460.78" cy="524.9" r="7.25"/><circle cx="1474.75" cy="524.9" r="7.25"/></g>
<polyline points="1055.8,133.5 1069.8,189.0 1083.7,237.0 1097.7,287.0 1111.7,334.0 1125.6,375.0 1139.6,399.0 1153.6,427.0 1167.5,446.0 1181.5,458.0 1195.5,468.8 1209.4,477.8 1223.4,484.9 1237.3,491.6 1251.3,497.4 1265.3,503.7 1279.2,510.6 1293.2,514.5 1307.2,514.8 1321.1,513.5 1335.1,511.9 1349.1,511.3 1363.0,511.4 1377.0,512.7 1391.0,515.9 1404.9,520.3 1418.9,523.2 1432.9,524.1 1446.8,524.7 1460.8,525.3 1474.8,525.7 1488.7,525.8" fill="none" stroke="#00B000" stroke-width="1.8" stroke-linejoin="round" clip-path="url(#clipb)"/>
<g fill="#666666"><circle cx="1055.80" cy="194.1" r="7.25"/><circle cx="1069.76" cy="297.2" r="7.25"/><circle cx="1083.73" cy="313.6" r="7.25"/><circle cx="1097.69" cy="329.7" r="7.25"/><circle cx="1111.66" cy="343.4" r="7.25"/><circle cx="1125.62" cy="428.5" r="7.25"/><circle cx="1139.59" cy="421.0" r="7.25"/><circle cx="1153.55" cy="405.4" r="7.25"/><circle cx="1167.52" cy="449.3" r="7.25"/><circle cx="1181.48" cy="475.9" r="7.25"/><circle cx="1195.45" cy="456.3" r="7.25"/><circle cx="1209.41" cy="470.1" r="7.25"/><circle cx="1223.38" cy="478.8" r="7.25"/><circle cx="1237.35" cy="478.8" r="7.25"/><circle cx="1251.31" cy="470.1" r="7.25"/><circle cx="1265.27" cy="500.0" r="7.25"/><circle cx="1279.24" cy="510.0" r="7.25"/><circle cx="1293.20" cy="515.0" r="7.25"/><circle cx="1307.17" cy="500.8" r="7.25"/><circle cx="1321.13" cy="515.0" r="7.25"/><circle cx="1335.10" cy="518.0" r="7.25"/><circle cx="1349.07" cy="520.0" r="7.25"/><circle cx="1363.03" cy="507.5" r="7.25"/><circle cx="1376.99" cy="525.5" r="7.25"/><circle cx="1390.96" cy="520.0" r="7.25"/><circle cx="1404.92" cy="511.7" r="7.25"/><circle cx="1418.89" cy="503.3" r="7.25"/><circle cx="1432.86" cy="509.9" r="7.25"/><circle cx="1446.82" cy="508.7" r="7.25"/><circle cx="1460.78" cy="514.1" r="7.25"/><circle cx="1474.75" cy="520.7" r="7.25"/></g>
<polyline points="1055.8,194.1 1069.8,240.0 1083.7,282.0 1097.7,325.0 1111.7,361.0 1125.6,388.0 1139.6,410.0 1153.6,428.0 1167.5,442.0 1181.5,451.8 1195.5,460.6 1209.4,467.6 1223.4,472.8 1237.3,478.3 1251.3,484.9 1265.3,490.7 1279.2,496.0 1293.2,501.5 1307.2,505.9 1321.1,507.7 1335.1,508.7 1349.1,511.1 1363.0,512.8 1377.0,512.7 1391.0,512.0 1404.9,511.5 1418.9,511.4 1432.9,512.5 1446.8,513.7 1460.8,515.2 1474.8,517.0 1488.7,517.5" fill="none" stroke="#666666" stroke-width="1.8" stroke-linejoin="round" clip-path="url(#clipb)"/>
<g fill="#D95319"><circle cx="1055.80" cy="241.7" r="7.25"/><circle cx="1069.76" cy="272.5" r="7.25"/><circle cx="1083.73" cy="300.8" r="7.25"/><circle cx="1097.69" cy="318.0" r="7.25"/><circle cx="1111.66" cy="366.1" r="7.25"/><circle cx="1125.62" cy="422.8" r="7.25"/><circle cx="1139.59" cy="415.8" r="7.25"/><circle cx="1153.55" cy="448.2" r="7.25"/><circle cx="1167.52" cy="455.0" r="7.25"/><circle cx="1181.48" cy="471.3" r="7.25"/><circle cx="1195.45" cy="472.5" r="7.25"/><circle cx="1209.41" cy="484.6" r="7.25"/><circle cx="1223.38" cy="491.0" r="7.25"/><circle cx="1237.35" cy="495.0" r="7.25"/><circle cx="1251.31" cy="499.0" r="7.25"/><circle cx="1265.27" cy="502.5" r="7.25"/><circle cx="1279.24" cy="510.0" r="7.25"/><circle cx="1293.20" cy="514.1" r="7.25"/><circle cx="1307.17" cy="518.0" r="7.25"/><circle cx="1321.13" cy="518.0" r="7.25"/><circle cx="1335.10" cy="518.3" r="7.25"/><circle cx="1349.07" cy="520.0" r="7.25"/><circle cx="1363.03" cy="520.0" r="7.25"/><circle cx="1376.99" cy="520.0" r="7.25"/><circle cx="1390.96" cy="520.0" r="7.25"/><circle cx="1404.92" cy="520.0" r="7.25"/><circle cx="1418.89" cy="520.0" r="7.25"/><circle cx="1432.86" cy="524.0" r="7.25"/><circle cx="1446.82" cy="520.5" r="7.25"/><circle cx="1460.78" cy="520.5" r="7.25"/><circle cx="1474.75" cy="524.9" r="7.25"/></g>
<polyline points="1055.8,241.7 1069.8,272.6 1083.7,305.0 1097.7,333.0 1111.7,359.0 1125.6,389.0 1139.6,415.5 1153.6,433.0 1167.5,449.0 1181.5,461.9 1195.5,472.5 1209.4,480.9 1223.4,487.6 1237.3,493.6 1251.3,499.1 1265.3,503.9 1279.2,508.1 1293.2,511.8 1307.2,514.8 1321.1,517.0 1335.1,518.4 1349.1,519.1 1363.0,519.5 1377.0,519.9 1391.0,520.3 1404.9,520.6 1418.9,520.9 1432.9,521.4 1446.8,522.0 1460.8,522.5 1474.8,523.1 1488.7,523.3" fill="none" stroke="#D95319" stroke-width="1.8" stroke-linejoin="round" clip-path="url(#clipb)"/>
<g fill="#EDB120"><circle cx="1055.80" cy="208.0" r="7.25"/><circle cx="1069.76" cy="316.5" r="7.25"/><circle cx="1083.73" cy="333.0" r="7.25"/><circle cx="1097.69" cy="339.9" r="7.25"/><circle cx="1111.66" cy="374.2" r="7.25"/><circle cx="1125.62" cy="436.0" r="7.25"/><circle cx="1139.59" cy="381.7" r="7.25"/><circle cx="1153.55" cy="456.9" r="7.25"/><circle cx="1167.52" cy="460.3" r="7.25"/><circle cx="1181.48" cy="466.1" r="7.25"/><circle cx="1195.45" cy="483.4" r="7.25"/><circle cx="1209.41" cy="478.2" r="7.25"/><circle cx="1223.38" cy="488.1" r="7.25"/><circle cx="1237.35" cy="489.8" r="7.25"/><circle cx="1251.31" cy="493.8" r="7.25"/><circle cx="1265.27" cy="490.9" r="7.25"/><circle cx="1279.24" cy="505.4" r="7.25"/><circle cx="1293.20" cy="504.8" r="7.25"/><circle cx="1307.17" cy="513.5" r="7.25"/><circle cx="1321.13" cy="513.8" r="7.25"/><circle cx="1335.10" cy="511.7" r="7.25"/><circle cx="1349.07" cy="516.5" r="7.25"/><circle cx="1363.03" cy="518.3" r="7.25"/><circle cx="1376.99" cy="517.1" r="7.25"/><circle cx="1390.96" cy="520.1" r="7.25"/><circle cx="1404.92" cy="520.1" r="7.25"/><circle cx="1418.89" cy="519.5" r="7.25"/><circle cx="1432.86" cy="520.1" r="7.25"/><circle cx="1446.82" cy="520.7" r="7.25"/><circle cx="1460.78" cy="520.7" r="7.25"/><circle cx="1474.75" cy="520.7" r="7.25"/></g>
<polyline points="1055.8,208.0 1069.8,252.0 1083.7,295.0 1097.7,338.0 1111.7,369.0 1125.6,396.0 1139.6,415.5 1153.6,434.0 1167.5,450.0 1181.5,462.4 1195.5,473.1 1209.4,480.1 1223.4,484.9 1237.3,489.2 1251.3,493.2 1265.3,497.5 1279.2,501.5 1293.2,505.3 1307.2,508.7 1321.1,511.8 1335.1,514.0 1349.1,515.6 1363.0,516.8 1377.0,517.9 1391.0,518.8 1404.9,519.4 1418.9,519.9 1432.9,520.1 1446.8,520.4 1460.8,520.7 1474.8,520.9 1488.7,521.0" fill="none" stroke="#EDB120" stroke-width="1.8" stroke-linejoin="round" clip-path="url(#clipb)"/>
<text x="3.9" y="678.6" class="t">(c) Coughing</text>
<text transform="translate(31.6,952.25) rotate(-90)" text-anchor="middle" class="t">Particle fraction(%)</text>
<text x="420.6" y="1270.0" class="t">D</text>
<text x="446.6" y="1287.7" class="t" style="font-size:26px">p</text>
<text x="472.6" y="1270.0" class="t">(</text>
<text x="486.0" y="1270.0" class="t" style="font-family:&quot;Liberation Serif&quot;,serif;font-style:italic;font-size:40px">μ</text>
<text x="507.4" y="1270.0" class="t">m</text>
<text x="536.5" y="1270.0" class="t">)</text>
<clipPath id="clipc"><rect x="262.6" y="727.7" width="446.90" height="449.10"/></clipPath>
<rect x="124.3" y="727.7" width="70.10" height="449.10" class="fr"/>
<rect x="262.6" y="727.7" width="446.90" height="449.10" class="fr"/>
<line x1="262.6" y1="1176.80" x2="268.1" y2="1176.80" class="ax"/>
<line x1="709.5" y1="1176.80" x2="704.0" y2="1176.80" class="ax"/>
<text transform="translate(251.60,1192.50) scale(1,1.088)" text-anchor="end" class="t">0</text>
<line x1="262.6" y1="1092.59" x2="268.1" y2="1092.59" class="ax"/>
<line x1="709.5" y1="1092.59" x2="704.0" y2="1092.59" class="ax"/>
<text transform="translate(251.60,1108.29) scale(1,1.088)" text-anchor="end" class="t">3</text>
<line x1="262.6" y1="1008.39" x2="268.1" y2="1008.39" class="ax"/>
<line x1="709.5" y1="1008.39" x2="704.0" y2="1008.39" class="ax"/>
<text transform="translate(251.60,1024.09) scale(1,1.088)" text-anchor="end" class="t">6</text>
<line x1="262.6" y1="924.18" x2="268.1" y2="924.18" class="ax"/>
<line x1="709.5" y1="924.18" x2="704.0" y2="924.18" class="ax"/>
<text transform="translate(251.60,939.88) scale(1,1.088)" text-anchor="end" class="t">9</text>
<line x1="262.6" y1="839.98" x2="268.1" y2="839.98" class="ax"/>
<line x1="709.5" y1="839.98" x2="704.0" y2="839.98" class="ax"/>
<text transform="translate(251.60,855.68) scale(1,1.088)" text-anchor="end" class="t">12</text>
<line x1="262.6" y1="755.77" x2="268.1" y2="755.77" class="ax"/>
<line x1="709.5" y1="755.77" x2="704.0" y2="755.77" class="ax"/>
<text transform="translate(251.60,771.47) scale(1,1.088)" text-anchor="end" class="t">15</text>
<line x1="262.60" y1="1176.8" x2="262.60" y2="1171.3" class="ax"/>
<line x1="262.60" y1="727.7" x2="262.60" y2="733.2" class="ax"/>
<line x1="297.99" y1="1176.8" x2="297.99" y2="1173.6" class="ax"/>
<line x1="297.99" y1="727.7" x2="297.99" y2="730.9000000000001" class="ax"/>
<line x1="327.90" y1="1176.8" x2="327.90" y2="1173.6" class="ax"/>
<line x1="327.90" y1="727.7" x2="327.90" y2="730.9000000000001" class="ax"/>
<line x1="353.82" y1="1176.8" x2="353.82" y2="1173.6" class="ax"/>
<line x1="353.82" y1="727.7" x2="353.82" y2="730.9000000000001" class="ax"/>
<line x1="376.68" y1="1176.8" x2="376.68" y2="1173.6" class="ax"/>
<line x1="376.68" y1="727.7" x2="376.68" y2="730.9000000000001" class="ax"/>
<line x1="397.13" y1="1176.8" x2="397.13" y2="1171.3" class="ax"/>
<line x1="397.13" y1="727.7" x2="397.13" y2="733.2" class="ax"/>
<line x1="531.66" y1="1176.8" x2="531.66" y2="1171.3" class="ax"/>
<line x1="531.66" y1="727.7" x2="531.66" y2="733.2" class="ax"/>
<line x1="610.36" y1="1176.8" x2="610.36" y2="1173.6" class="ax"/>
<line x1="610.36" y1="727.7" x2="610.36" y2="730.9000000000001" class="ax"/>
<line x1="666.19" y1="1176.8" x2="666.19" y2="1173.6" class="ax"/>
<line x1="666.19" y1="727.7" x2="666.19" y2="730.9000000000001" class="ax"/>
<line x1="709.50" y1="1176.8" x2="709.50" y2="1171.3" class="ax"/>
<line x1="709.50" y1="727.7" x2="709.50" y2="733.2" class="ax"/>
<text transform="translate(262.60,1225.20) scale(1,1.088)" text-anchor="middle" class="t">0.5</text>
<text transform="translate(397.13,1225.20) scale(1,1.088)" text-anchor="middle" class="t">1</text>
<text transform="translate(531.66,1225.20) scale(1,1.088)" text-anchor="middle" class="t">2</text>
<text transform="translate(709.50,1225.20) scale(1,1.088)" text-anchor="middle" class="t">5</text>
<line x1="124.3" y1="1176.80" x2="129.8" y2="1176.80" class="ax"/>
<line x1="194.4" y1="1176.80" x2="188.9" y2="1176.80" class="ax"/>
<text transform="translate(111.80,1192.50) scale(1,1.088)" text-anchor="end" class="t">40</text>
<line x1="124.3" y1="1064.53" x2="129.8" y2="1064.53" class="ax"/>
<line x1="194.4" y1="1064.53" x2="188.9" y2="1064.53" class="ax"/>
<text transform="translate(111.80,1080.23) scale(1,1.088)" text-anchor="end" class="t">45</text>
<line x1="124.3" y1="952.25" x2="129.8" y2="952.25" class="ax"/>
<line x1="194.4" y1="952.25" x2="188.9" y2="952.25" class="ax"/>
<text transform="translate(111.80,967.95) scale(1,1.088)" text-anchor="end" class="t">50</text>
<line x1="124.3" y1="839.98" x2="129.8" y2="839.98" class="ax"/>
<line x1="194.4" y1="839.98" x2="188.9" y2="839.98" class="ax"/>
<text transform="translate(111.80,855.68) scale(1,1.088)" text-anchor="end" class="t">55</text>
<line x1="124.3" y1="727.70" x2="129.8" y2="727.70" class="ax"/>
<line x1="194.4" y1="727.70" x2="188.9" y2="727.70" class="ax"/>
<text transform="translate(111.80,743.40) scale(1,1.088)" text-anchor="end" class="t">60</text>
<line x1="163.78" y1="1176.8" x2="163.78" y2="1173.6" class="ax"/>
<line x1="163.78" y1="727.7" x2="163.78" y2="730.9000000000001" class="ax"/>
<text transform="translate(124.30,1225.20) scale(1,1.088)" text-anchor="middle" class="t">0.3</text>
<text transform="translate(194.40,1225.20) scale(1,1.088)" text-anchor="middle" class="t">0.5</text>
<g stroke="#0072BD" fill="#0072BD"><line x1="128.6" y1="1150.8" x2="191.5" y2="1150.8" stroke-width="1.6"/><line x1="128.6" y1="1139.6" x2="128.6" y2="1162.0" stroke-width="2.6"/><line x1="191.5" y1="1139.6" x2="191.5" y2="1162.0" stroke-width="2.6"/><circle cx="163.78" cy="1150.8" r="6.9" stroke="none"/></g>
<g stroke="#FF0000" fill="#FF0000"><line x1="128.6" y1="965.2" x2="191.5" y2="965.2" stroke-width="1.6"/><line x1="128.6" y1="954.0" x2="128.6" y2="976.4" stroke-width="2.6"/><line x1="191.5" y1="954.0" x2="191.5" y2="976.4" stroke-width="2.6"/><circle cx="163.78" cy="965.2" r="6.9" stroke="none"/></g>
<g stroke="#00B000" fill="#00B000"><line x1="128.6" y1="916.0" x2="191.5" y2="916.0" stroke-width="1.6"/><line x1="128.6" y1="904.8" x2="128.6" y2="927.2" stroke-width="2.6"/><line x1="191.5" y1="904.8" x2="191.5" y2="927.2" stroke-width="2.6"/><circle cx="163.78" cy="916.0" r="6.9" stroke="none"/></g>
<g stroke="#666666" fill="#666666"><line x1="128.6" y1="823.9" x2="191.5" y2="823.9" stroke-width="1.6"/><line x1="128.6" y1="812.7" x2="128.6" y2="835.1" stroke-width="2.6"/><line x1="191.5" y1="812.7" x2="191.5" y2="835.1" stroke-width="2.6"/><circle cx="163.78" cy="823.9" r="6.9" stroke="none"/></g>
<g stroke="#D95319" fill="#D95319"><line x1="128.6" y1="785.8" x2="191.5" y2="785.8" stroke-width="1.6"/><line x1="128.6" y1="774.6" x2="128.6" y2="797.0" stroke-width="2.6"/><line x1="191.5" y1="774.6" x2="191.5" y2="797.0" stroke-width="2.6"/><circle cx="163.78" cy="785.8" r="6.9" stroke="none"/></g>
<g stroke="#EDB120" fill="#EDB120"><line x1="128.6" y1="816.5" x2="191.5" y2="816.5" stroke-width="1.6"/><line x1="128.6" y1="805.3" x2="128.6" y2="827.7" stroke-width="2.6"/><line x1="191.5" y1="805.3" x2="191.5" y2="827.7" stroke-width="2.6"/><circle cx="163.78" cy="816.5" r="6.9" stroke="none"/></g>
<g fill="#0072BD"><circle cx="278.10" cy="999.5" r="7.25"/><circle cx="292.06" cy="977.7" r="7.25"/><circle cx="306.03" cy="969.6" r="7.25"/><circle cx="320.00" cy="967.9" r="7.25"/><circle cx="333.96" cy="1008.4" r="7.25"/><circle cx="347.93" cy="1052.9" r="7.25"/><circle cx="361.89" cy="1065.6" r="7.25"/><circle cx="375.86" cy="1097.2" r="7.25"/><circle cx="389.82" cy="1099.8" r="7.25"/><circle cx="403.79" cy="1125.3" r="7.25"/><circle cx="417.75" cy="1123.0" r="7.25"/><circle cx="431.72" cy="1140.0" r="7.25"/><circle cx="445.68" cy="1154.0" r="7.25"/><circle cx="459.64" cy="1151.3" r="7.25"/><circle cx="473.61" cy="1160.0" r="7.25"/><circle cx="487.58" cy="1165.0" r="7.25"/><circle cx="501.54" cy="1165.7" r="7.25"/><circle cx="515.50" cy="1165.7" r="7.25"/><circle cx="529.47" cy="1170.0" r="7.25"/><circle cx="543.43" cy="1172.0" r="7.25"/><circle cx="557.40" cy="1172.0" r="7.25"/><circle cx="571.37" cy="1172.0" r="7.25"/><circle cx="585.33" cy="1171.0" r="7.25"/><circle cx="599.30" cy="1172.0" r="7.25"/><circle cx="613.26" cy="1174.0" r="7.25"/><circle cx="627.23" cy="1174.0" r="7.25"/><circle cx="641.19" cy="1174.0" r="7.25"/><circle cx="655.15" cy="1174.0" r="7.25"/><circle cx="669.12" cy="1174.0" r="7.25"/><circle cx="683.09" cy="1170.0" r="7.25"/><circle cx="697.05" cy="1174.0" r="7.25"/></g>
<polyline points="278.1,999.5 292.1,995.5 306.0,997.5 320.0,1005.0 334.0,1020.0 347.9,1042.0 361.9,1060.0 375.9,1081.5 389.8,1099.5 403.8,1112.0 417.8,1123.0 431.7,1133.0 445.7,1142.2 459.6,1150.0 473.6,1154.7 487.6,1158.0 501.5,1160.6 515.5,1162.7 529.5,1164.0 543.4,1165.1 557.4,1166.0 571.4,1167.1 585.3,1168.0 599.3,1169.0 613.3,1170.0 627.2,1170.6 641.2,1171.0 655.2,1172.0 669.1,1173.0 683.1,1174.0 697.0,1175.0 711.0,1175.3" fill="none" stroke="#0072BD" stroke-width="1.8" stroke-linejoin="round" clip-path="url(#clipc)"/>
<g fill="#FF0000"><circle cx="278.10" cy="730.3" r="7.25"/><circle cx="292.06" cy="905.5" r="7.25"/><circle cx="306.03" cy="998.5" r="7.25"/><circle cx="320.00" cy="937.3" r="7.25"/><circle cx="333.96" cy="1094.0" r="7.25"/><circle cx="347.93" cy="1130.0" r="7.25"/><circle cx="361.89" cy="1160.6" r="7.25"/><circle cx="375.86" cy="1176.7" r="7.25"/><circle cx="389.82" cy="1161.0" r="7.25"/><circle cx="403.79" cy="1165.0" r="7.25"/><circle cx="417.75" cy="1177.4" r="7.25"/><circle cx="431.72" cy="1147.5" r="7.25"/><circle cx="445.68" cy="1179.5" r="7.25"/><circle cx="459.64" cy="1172.0" r="7.25"/><circle cx="473.61" cy="1159.8" r="7.25"/><circle cx="487.58" cy="1175.0" r="7.25"/><circle cx="501.54" cy="1178.0" r="7.25"/><circle cx="515.50" cy="1178.0" r="7.25"/><circle cx="529.47" cy="1178.0" r="7.25"/><circle cx="543.43" cy="1177.0" r="7.25"/><circle cx="557.40" cy="1176.0" r="7.25"/><circle cx="571.37" cy="1177.0" r="7.25"/><circle cx="585.33" cy="1176.5" r="7.25"/><circle cx="599.30" cy="1176.3" r="7.25"/><circle cx="613.26" cy="1176.3" r="7.25"/><circle cx="627.23" cy="1176.3" r="7.25"/><circle cx="641.19" cy="1176.3" r="7.25"/><circle cx="655.15" cy="1176.3" r="7.25"/><circle cx="669.12" cy="1176.3" r="7.25"/><circle cx="683.09" cy="1176.3" r="7.25"/><circle cx="697.05" cy="1159.7" r="7.25"/></g>
<polyline points="278.1,730.3 292.1,819.4 306.0,909.0 320.0,988.0 334.0,1050.0 347.9,1090.0 361.9,1116.0 375.9,1134.0 389.8,1151.7 403.8,1159.7 417.8,1163.3 431.7,1164.9 445.7,1166.4 459.6,1168.3 473.6,1170.5 487.6,1172.7 501.5,1174.1 515.5,1175.5 529.5,1176.8 543.4,1177.1 557.4,1176.9 571.4,1176.7 585.3,1176.5 599.3,1176.4 613.3,1176.4 627.2,1176.3 641.2,1176.0 655.2,1174.2 669.1,1172.4 683.1,1170.4 697.0,1168.3 711.0,1167.7" fill="none" stroke="#FF0000" stroke-width="1.8" stroke-linejoin="round" clip-path="url(#clipc)"/>
<g fill="#00B000"><circle cx="278.10" cy="937.3" r="7.25"/><circle cx="292.06" cy="980.6" r="7.25"/><circle cx="306.03" cy="1063.4" r="7.25"/><circle cx="320.00" cy="1039.6" r="7.25"/><circle cx="333.96" cy="1110.6" r="7.25"/><circle cx="347.93" cy="1134.1" r="7.25"/><circle cx="361.89" cy="1130.0" r="7.25"/><circle cx="375.86" cy="1140.0" r="7.25"/><circle cx="389.82" cy="1145.1" r="7.25"/><circle cx="403.79" cy="1137.9" r="7.25"/><circle cx="417.75" cy="1141.7" r="7.25"/><circle cx="431.72" cy="1141.7" r="7.25"/><circle cx="445.68" cy="1150.2" r="7.25"/><circle cx="459.64" cy="1133.6" r="7.25"/><circle cx="473.61" cy="1137.4" r="7.25"/><circle cx="487.58" cy="1157.1" r="7.25"/><circle cx="501.54" cy="1157.1" r="7.25"/><circle cx="515.50" cy="1157.1" r="7.25"/><circle cx="529.47" cy="1165.0" r="7.25"/><circle cx="543.43" cy="1153.1" r="7.25"/><circle cx="557.40" cy="1152.9" r="7.25"/><circle cx="571.37" cy="1160.8" r="7.25"/><circle cx="585.33" cy="1153.4" r="7.25"/><circle cx="599.30" cy="1176.0" r="7.25"/><circle cx="613.26" cy="1176.0" r="7.25"/><circle cx="627.23" cy="1157.4" r="7.25"/><circle cx="641.19" cy="1159.7" r="7.25"/><circle cx="655.15" cy="1176.0" r="7.25"/><circle cx="669.12" cy="1176.0" r="7.25"/><circle cx="683.09" cy="1176.0" r="7.25"/><circle cx="697.05" cy="1179.0" r="7.25"/></g>
<polyline points="278.1,937.3 292.1,976.0 306.0,1012.0 320.0,1050.0 334.0,1078.0 347.9,1107.0 361.9,1124.0 375.9,1131.0 389.8,1137.0 403.8,1139.8 417.8,1141.3 431.7,1142.0 445.7,1142.9 459.6,1145.0 473.6,1147.4 487.6,1150.0 501.5,1152.5 515.5,1154.7 529.5,1156.0 543.4,1156.9 557.4,1158.5 571.4,1159.4 585.3,1160.0 599.3,1161.0 613.3,1162.5 627.2,1164.5 641.2,1166.0 655.2,1168.4 669.1,1171.0 683.1,1172.7 697.0,1174.5 711.0,1175.1" fill="none" stroke="#00B000" stroke-width="1.8" stroke-linejoin="round" clip-path="url(#clipc)"/>
<g fill="#666666"><circle cx="278.10" cy="940.2" r="7.25"/><circle cx="292.06" cy="977.7" r="7.25"/><circle cx="306.03" cy="958.1" r="7.25"/><circle cx="320.00" cy="1015.0" r="7.25"/><circle cx="333.96" cy="1075.4" r="7.25"/><circle cx="347.93" cy="1145.6" r="7.25"/><circle cx="361.89" cy="1134.1" r="7.25"/><circle cx="375.86" cy="1139.1" r="7.25"/><circle cx="389.82" cy="1160.0" r="7.25"/><circle cx="403.79" cy="1170.5" r="7.25"/><circle cx="417.75" cy="1160.3" r="7.25"/><circle cx="431.72" cy="1170.0" r="7.25"/><circle cx="445.68" cy="1175.8" r="7.25"/><circle cx="459.64" cy="1158.7" r="7.25"/><circle cx="473.61" cy="1170.0" r="7.25"/><circle cx="487.58" cy="1166.2" r="7.25"/><circle cx="501.54" cy="1172.0" r="7.25"/><circle cx="515.50" cy="1172.0" r="7.25"/><circle cx="529.47" cy="1162.5" r="7.25"/><circle cx="543.43" cy="1172.0" r="7.25"/><circle cx="557.40" cy="1166.0" r="7.25"/><circle cx="571.37" cy="1178.0" r="7.25"/><circle cx="585.33" cy="1174.0" r="7.25"/><circle cx="599.30" cy="1170.0" r="7.25"/><circle cx="613.26" cy="1164.3" r="7.25"/><circle cx="627.23" cy="1169.4" r="7.25"/><circle cx="641.19" cy="1166.6" r="7.25"/><circle cx="655.15" cy="1168.3" r="7.25"/><circle cx="669.12" cy="1169.4" r="7.25"/><circle cx="683.09" cy="1172.0" r="7.25"/><circle cx="697.05" cy="1164.3" r="7.25"/></g>
<polyline points="278.1,940.2 292.1,966.0 306.0,1000.0 320.0,1030.0 334.0,1061.6 347.9,1091.7 361.9,1117.0 375.9,1135.6 389.8,1147.1 403.8,1153.8 417.8,1158.5 431.7,1161.6 445.7,1163.0 459.6,1164.0 473.6,1164.8 487.6,1165.1 501.5,1165.4 515.5,1166.3 529.5,1167.4 543.4,1168.5 557.4,1169.2 571.4,1169.6 585.3,1170.0 599.3,1169.9 613.3,1169.6 627.2,1169.1 641.2,1169.1 655.2,1169.5 669.1,1169.8 683.1,1170.1 697.0,1170.4 711.0,1170.5" fill="none" stroke="#666666" stroke-width="1.8" stroke-linejoin="round" clip-path="url(#clipc)"/>
<g fill="#D95319"><circle cx="278.10" cy="895.7" r="7.25"/><circle cx="292.06" cy="968.5" r="7.25"/><circle cx="306.03" cy="1004.3" r="7.25"/><circle cx="320.00" cy="1021.7" r="7.25"/><circle cx="333.96" cy="1065.0" r="7.25"/><circle cx="347.93" cy="1121.6" r="7.25"/><circle cx="361.89" cy="1121.1" r="7.25"/><circle cx="375.86" cy="1143.1" r="7.25"/><circle cx="389.82" cy="1155.0" r="7.25"/><circle cx="403.79" cy="1165.0" r="7.25"/><circle cx="417.75" cy="1168.0" r="7.25"/><circle cx="431.72" cy="1165.1" r="7.25"/><circle cx="445.68" cy="1172.0" r="7.25"/><circle cx="459.64" cy="1172.0" r="7.25"/><circle cx="473.61" cy="1166.7" r="7.25"/><circle cx="487.58" cy="1174.0" r="7.25"/><circle cx="501.54" cy="1175.0" r="7.25"/><circle cx="515.50" cy="1175.0" r="7.25"/><circle cx="529.47" cy="1175.0" r="7.25"/><circle cx="543.43" cy="1168.8" r="7.25"/><circle cx="557.40" cy="1175.0" r="7.25"/><circle cx="571.37" cy="1175.0" r="7.25"/><circle cx="585.33" cy="1175.0" r="7.25"/><circle cx="599.30" cy="1175.0" r="7.25"/><circle cx="613.26" cy="1175.0" r="7.25"/><circle cx="627.23" cy="1175.0" r="7.25"/><circle cx="641.19" cy="1175.0" r="7.25"/><circle cx="655.15" cy="1175.0" r="7.25"/><circle cx="669.12" cy="1175.0" r="7.25"/><circle cx="683.09" cy="1175.0" r="7.25"/><circle cx="697.05" cy="1175.0" r="7.25"/></g>
<polyline points="278.1,895.7 292.1,942.0 306.0,989.0 320.0,1025.0 334.0,1057.0 347.9,1088.0 361.9,1115.0 375.9,1131.0 389.8,1145.9 403.8,1155.4 417.8,1162.1 431.7,1166.2 445.7,1168.5 459.6,1170.0 473.6,1171.4 487.6,1172.4 501.5,1172.8 515.5,1173.2 529.5,1173.7 543.4,1173.9 557.4,1173.9 571.4,1174.1 585.3,1174.5 599.3,1174.9 613.3,1175.0 627.2,1175.0 641.2,1175.0 655.2,1175.0 669.1,1175.0 683.1,1175.0 697.0,1175.0 711.0,1175.0" fill="none" stroke="#D95319" stroke-width="1.8" stroke-linejoin="round" clip-path="url(#clipc)"/>
<g fill="#EDB120"><circle cx="278.10" cy="873.7" r="7.25"/><circle cx="292.06" cy="938.5" r="7.25"/><circle cx="306.03" cy="981.2" r="7.25"/><circle cx="320.00" cy="1016.5" r="7.25"/><circle cx="333.96" cy="1097.3" r="7.25"/><circle cx="347.93" cy="1128.6" r="7.25"/><circle cx="361.89" cy="1137.1" r="7.25"/><circle cx="375.86" cy="1149.6" r="7.25"/><circle cx="389.82" cy="1160.1" r="7.25"/><circle cx="403.79" cy="1161.0" r="7.25"/><circle cx="417.75" cy="1165.1" r="7.25"/><circle cx="431.72" cy="1174.2" r="7.25"/><circle cx="445.68" cy="1169.4" r="7.25"/><circle cx="459.64" cy="1170.5" r="7.25"/><circle cx="473.61" cy="1176.3" r="7.25"/><circle cx="487.58" cy="1172.6" r="7.25"/><circle cx="501.54" cy="1175.8" r="7.25"/><circle cx="515.50" cy="1175.8" r="7.25"/><circle cx="529.47" cy="1175.3" r="7.25"/><circle cx="543.43" cy="1176.6" r="7.25"/><circle cx="557.40" cy="1174.6" r="7.25"/><circle cx="571.37" cy="1173.4" r="7.25"/><circle cx="585.33" cy="1175.7" r="7.25"/><circle cx="599.30" cy="1176.3" r="7.25"/><circle cx="613.26" cy="1175.7" r="7.25"/><circle cx="627.23" cy="1176.3" r="7.25"/><circle cx="641.19" cy="1174.6" r="7.25"/><circle cx="655.15" cy="1176.3" r="7.25"/><circle cx="669.12" cy="1176.3" r="7.25"/><circle cx="683.09" cy="1176.3" r="7.25"/><circle cx="697.05" cy="1174.6" r="7.25"/></g>
<polyline points="278.1,873.7 292.1,935.0 306.0,981.0 320.0,1017.0 334.0,1059.0 347.9,1094.0 361.9,1120.5 375.9,1139.0 389.8,1151.2 403.8,1158.7 417.8,1163.8 431.7,1167.4 445.7,1170.0 459.6,1171.8 473.6,1173.1 487.6,1173.9 501.5,1174.7 515.5,1175.1 529.5,1175.2 543.4,1175.2 557.4,1175.3 571.4,1175.3 585.3,1175.4 599.3,1175.4 613.3,1175.6 627.2,1175.8 641.2,1175.9 655.2,1175.8 669.1,1175.7 683.1,1175.6 697.0,1175.5 711.0,1175.5" fill="none" stroke="#EDB120" stroke-width="1.8" stroke-linejoin="round" clip-path="url(#clipc)"/>
<text x="784.0" y="678.6" class="t">(d) Jaw Movement</text>
<text transform="translate(811.6,952.25) rotate(-90)" text-anchor="middle" class="t">Particle fraction(%)</text>
<text x="1198.3" y="1270.0" class="t">D</text>
<text x="1224.3" y="1287.7" class="t" style="font-size:26px">p</text>
<text x="1250.3" y="1270.0" class="t">(</text>
<text x="1263.7" y="1270.0" class="t" style="font-family:&quot;Liberation Serif&quot;,serif;font-style:italic;font-size:40px">μ</text>
<text x="1285.1" y="1270.0" class="t">m</text>
<text x="1314.2" y="1270.0" class="t">)</text>
<clipPath id="clipd"><rect x="1040.3" y="727.7" width="446.70" height="449.10"/></clipPath>
<rect x="904.7" y="727.7" width="70.00" height="449.10" class="fr"/>
<rect x="1040.3" y="727.7" width="446.70" height="449.10" class="fr"/>
<line x1="1040.3" y1="1176.80" x2="1045.8" y2="1176.80" class="ax"/>
<line x1="1487.0" y1="1176.80" x2="1481.5" y2="1176.80" class="ax"/>
<text transform="translate(1029.30,1192.50) scale(1,1.088)" text-anchor="end" class="t">0</text>
<line x1="1040.3" y1="1086.98" x2="1045.8" y2="1086.98" class="ax"/>
<line x1="1487.0" y1="1086.98" x2="1481.5" y2="1086.98" class="ax"/>
<text transform="translate(1029.30,1102.68) scale(1,1.088)" text-anchor="end" class="t">3</text>
<line x1="1040.3" y1="997.16" x2="1045.8" y2="997.16" class="ax"/>
<line x1="1487.0" y1="997.16" x2="1481.5" y2="997.16" class="ax"/>
<text transform="translate(1029.30,1012.86) scale(1,1.088)" text-anchor="end" class="t">6</text>
<line x1="1040.3" y1="907.34" x2="1045.8" y2="907.34" class="ax"/>
<line x1="1487.0" y1="907.34" x2="1481.5" y2="907.34" class="ax"/>
<text transform="translate(1029.30,923.04) scale(1,1.088)" text-anchor="end" class="t">9</text>
<line x1="1040.3" y1="817.52" x2="1045.8" y2="817.52" class="ax"/>
<line x1="1487.0" y1="817.52" x2="1481.5" y2="817.52" class="ax"/>
<text transform="translate(1029.30,833.22) scale(1,1.088)" text-anchor="end" class="t">12</text>
<line x1="1040.3" y1="727.70" x2="1045.8" y2="727.70" class="ax"/>
<line x1="1487.0" y1="727.70" x2="1481.5" y2="727.70" class="ax"/>
<text transform="translate(1029.30,743.40) scale(1,1.088)" text-anchor="end" class="t">15</text>
<line x1="1040.30" y1="1176.8" x2="1040.30" y2="1171.3" class="ax"/>
<line x1="1040.30" y1="727.7" x2="1040.30" y2="733.2" class="ax"/>
<line x1="1075.67" y1="1176.8" x2="1075.67" y2="1173.6" class="ax"/>
<line x1="1075.67" y1="727.7" x2="1075.67" y2="730.9000000000001" class="ax"/>
<line x1="1105.58" y1="1176.8" x2="1105.58" y2="1173.6" class="ax"/>
<line x1="1105.58" y1="727.7" x2="1105.58" y2="730.9000000000001" class="ax"/>
<line x1="1131.48" y1="1176.8" x2="1131.48" y2="1173.6" class="ax"/>
<line x1="1131.48" y1="727.7" x2="1131.48" y2="730.9000000000001" class="ax"/>
<line x1="1154.33" y1="1176.8" x2="1154.33" y2="1173.6" class="ax"/>
<line x1="1154.33" y1="727.7" x2="1154.33" y2="730.9000000000001" class="ax"/>
<line x1="1174.77" y1="1176.8" x2="1174.77" y2="1171.3" class="ax"/>
<line x1="1174.77" y1="727.7" x2="1174.77" y2="733.2" class="ax"/>
<line x1="1309.24" y1="1176.8" x2="1309.24" y2="1171.3" class="ax"/>
<line x1="1309.24" y1="727.7" x2="1309.24" y2="733.2" class="ax"/>
<line x1="1387.90" y1="1176.8" x2="1387.90" y2="1173.6" class="ax"/>
<line x1="1387.90" y1="727.7" x2="1387.90" y2="730.9000000000001" class="ax"/>
<line x1="1443.71" y1="1176.8" x2="1443.71" y2="1173.6" class="ax"/>
<line x1="1443.71" y1="727.7" x2="1443.71" y2="730.9000000000001" class="ax"/>
<line x1="1487.00" y1="1176.8" x2="1487.00" y2="1171.3" class="ax"/>
<line x1="1487.00" y1="727.7" x2="1487.00" y2="733.2" class="ax"/>
<text transform="translate(1040.30,1225.20) scale(1,1.088)" text-anchor="middle" class="t">0.5</text>
<text transform="translate(1174.77,1225.20) scale(1,1.088)" text-anchor="middle" class="t">1</text>
<text transform="translate(1309.24,1225.20) scale(1,1.088)" text-anchor="middle" class="t">2</text>
<text transform="translate(1487.00,1225.20) scale(1,1.088)" text-anchor="middle" class="t">5</text>
<line x1="904.7" y1="1176.80" x2="910.2" y2="1176.80" class="ax"/>
<line x1="974.7" y1="1176.80" x2="969.2" y2="1176.80" class="ax"/>
<text transform="translate(892.20,1192.50) scale(1,1.088)" text-anchor="end" class="t">35</text>
<line x1="904.7" y1="1027.10" x2="910.2" y2="1027.10" class="ax"/>
<line x1="974.7" y1="1027.10" x2="969.2" y2="1027.10" class="ax"/>
<text transform="translate(892.20,1042.80) scale(1,1.088)" text-anchor="end" class="t">40</text>
<line x1="904.7" y1="877.40" x2="910.2" y2="877.40" class="ax"/>
<line x1="974.7" y1="877.40" x2="969.2" y2="877.40" class="ax"/>
<text transform="translate(892.20,893.10) scale(1,1.088)" text-anchor="end" class="t">45</text>
<line x1="904.7" y1="727.70" x2="910.2" y2="727.70" class="ax"/>
<line x1="974.7" y1="727.70" x2="969.2" y2="727.70" class="ax"/>
<text transform="translate(892.20,743.40) scale(1,1.088)" text-anchor="end" class="t">50</text>
<line x1="944.12" y1="1176.8" x2="944.12" y2="1173.6" class="ax"/>
<line x1="944.12" y1="727.7" x2="944.12" y2="730.9000000000001" class="ax"/>
<text transform="translate(904.70,1225.20) scale(1,1.088)" text-anchor="middle" class="t">0.3</text>
<text transform="translate(974.70,1225.20) scale(1,1.088)" text-anchor="middle" class="t">0.5</text>
<g stroke="#0072BD" fill="#0072BD"><line x1="909.0" y1="1116.1" x2="971.8" y2="1116.1" stroke-width="1.6"/><line x1="909.0" y1="1104.9" x2="909.0" y2="1127.3" stroke-width="2.6"/><line x1="971.8" y1="1104.9" x2="971.8" y2="1127.3" stroke-width="2.6"/><circle cx="944.12" cy="1116.1" r="6.9" stroke="none"/></g>
<g stroke="#FF0000" fill="#FF0000"><line x1="909.0" y1="1161.2" x2="971.8" y2="1161.2" stroke-width="1.6"/><line x1="909.0" y1="1150.0" x2="909.0" y2="1172.4" stroke-width="2.6"/><line x1="971.8" y1="1150.0" x2="971.8" y2="1172.4" stroke-width="2.6"/><circle cx="944.12" cy="1161.2" r="6.9" stroke="none"/></g>
<g stroke="#00B000" fill="#00B000"><line x1="909.0" y1="889.9" x2="971.8" y2="889.9" stroke-width="1.6"/><line x1="909.0" y1="878.7" x2="909.0" y2="901.1" stroke-width="2.6"/><line x1="971.8" y1="878.7" x2="971.8" y2="901.1" stroke-width="2.6"/><circle cx="944.12" cy="889.9" r="6.9" stroke="none"/></g>
<g stroke="#666666" fill="#666666"><line x1="909.0" y1="921.3" x2="971.8" y2="921.3" stroke-width="1.6"/><line x1="909.0" y1="910.1" x2="909.0" y2="932.5" stroke-width="2.6"/><line x1="971.8" y1="910.1" x2="971.8" y2="932.5" stroke-width="2.6"/><circle cx="944.12" cy="921.3" r="6.9" stroke="none"/></g>
<g stroke="#D95319" fill="#D95319"><line x1="909.0" y1="913.6" x2="971.8" y2="913.6" stroke-width="1.6"/><line x1="909.0" y1="902.4" x2="909.0" y2="924.8" stroke-width="2.6"/><line x1="971.8" y1="902.4" x2="971.8" y2="924.8" stroke-width="2.6"/><circle cx="944.12" cy="913.6" r="6.9" stroke="none"/></g>
<g stroke="#EDB120" fill="#EDB120"><line x1="909.0" y1="945.3" x2="971.8" y2="945.3" stroke-width="1.6"/><line x1="909.0" y1="934.1" x2="909.0" y2="956.5" stroke-width="2.6"/><line x1="971.8" y1="934.1" x2="971.8" y2="956.5" stroke-width="2.6"/><circle cx="944.12" cy="945.3" r="6.9" stroke="none"/></g>
<g fill="#0072BD"><circle cx="1055.80" cy="983.2" r="7.25"/><circle cx="1069.76" cy="1038.2" r="7.25"/><circle cx="1083.73" cy="954.9" r="7.25"/><circle cx="1097.69" cy="927.2" r="7.25"/><circle cx="1111.66" cy="1040.0" r="7.25"/><circle cx="1125.62" cy="1176.9" r="7.25"/><circle cx="1139.59" cy="1094.5" r="7.25"/><circle cx="1153.55" cy="1149.2" r="7.25"/><circle cx="1167.52" cy="1120.8" r="7.25"/><circle cx="1181.48" cy="1123.0" r="7.25"/><circle cx="1195.45" cy="1093.4" r="7.25"/><circle cx="1209.41" cy="1149.7" r="7.25"/><circle cx="1223.38" cy="1119.0" r="7.25"/><circle cx="1237.35" cy="1065.9" r="7.25"/><circle cx="1251.31" cy="1093.4" r="7.25"/><circle cx="1265.27" cy="1121.9" r="7.25"/><circle cx="1279.24" cy="1149.0" r="7.25"/><circle cx="1293.20" cy="1175.0" r="7.25"/><circle cx="1307.17" cy="1177.5" r="7.25"/><circle cx="1321.13" cy="1177.5" r="7.25"/><circle cx="1335.10" cy="1093.7" r="7.25"/><circle cx="1349.07" cy="1175.0" r="7.25"/><circle cx="1363.03" cy="1175.0" r="7.25"/><circle cx="1376.99" cy="1149.2" r="7.25"/><circle cx="1390.96" cy="1178.3" r="7.25"/><circle cx="1404.92" cy="1176.0" r="7.25"/><circle cx="1418.89" cy="1065.9" r="7.25"/><circle cx="1432.86" cy="1176.0" r="7.25"/><circle cx="1446.82" cy="1149.2" r="7.25"/><circle cx="1460.78" cy="1176.0" r="7.25"/><circle cx="1474.75" cy="1176.0" r="7.25"/></g>
<polyline points="1055.8,983.2 1069.8,993.6 1083.7,1003.0 1097.7,1014.0 1111.7,1045.0 1125.6,1074.7 1139.6,1093.2 1153.6,1112.8 1167.5,1119.7 1181.5,1124.4 1195.5,1116.0 1209.4,1112.2 1223.4,1112.0 1237.3,1110.0 1251.3,1116.0 1265.3,1128.0 1279.2,1135.4 1293.2,1139.0 1307.2,1145.0 1321.1,1150.0 1335.1,1155.0 1349.1,1159.0 1363.0,1158.0 1377.0,1156.0 1391.0,1155.0 1404.9,1153.2 1418.9,1149.2 1432.9,1153.8 1446.8,1159.0 1460.8,1164.9 1474.8,1169.6 1488.7,1171.0" fill="none" stroke="#0072BD" stroke-width="1.8" stroke-linejoin="round" clip-path="url(#clipd)"/>
<g fill="#FF0000"><circle cx="1055.80" cy="782.7" r="7.25"/><circle cx="1069.76" cy="1019.0" r="7.25"/><circle cx="1083.73" cy="1058.7" r="7.25"/><circle cx="1097.69" cy="1098.1" r="7.25"/><circle cx="1111.66" cy="1019.0" r="7.25"/><circle cx="1125.62" cy="1058.1" r="7.25"/><circle cx="1139.59" cy="1019.4" r="7.25"/><circle cx="1153.55" cy="1098.0" r="7.25"/><circle cx="1167.52" cy="1099.0" r="7.25"/><circle cx="1181.48" cy="1136.3" r="7.25"/><circle cx="1195.45" cy="1137.6" r="7.25"/><circle cx="1209.41" cy="1019.2" r="7.25"/><circle cx="1223.38" cy="1176.8" r="7.25"/><circle cx="1237.35" cy="1176.8" r="7.25"/><circle cx="1251.31" cy="1136.0" r="7.25"/><circle cx="1265.27" cy="1134.7" r="7.25"/><circle cx="1279.24" cy="1097.5" r="7.25"/><circle cx="1293.20" cy="1147.5" r="7.25"/><circle cx="1307.17" cy="1137.6" r="7.25"/><circle cx="1321.13" cy="1097.8" r="7.25"/><circle cx="1335.10" cy="1160.0" r="7.25"/><circle cx="1349.07" cy="1137.5" r="7.25"/><circle cx="1363.03" cy="1166.0" r="7.25"/><circle cx="1376.99" cy="1178.9" r="7.25"/><circle cx="1390.96" cy="1137.5" r="7.25"/><circle cx="1404.92" cy="1170.0" r="7.25"/><circle cx="1418.89" cy="1172.0" r="7.25"/><circle cx="1432.86" cy="1172.0" r="7.25"/><circle cx="1446.82" cy="1172.0" r="7.25"/><circle cx="1460.78" cy="1172.0" r="7.25"/><circle cx="1474.75" cy="1172.0" r="7.25"/></g>
<polyline points="1055.8,782.7 1069.8,875.0 1083.7,955.5 1097.7,1007.0 1111.7,1048.0 1125.6,1062.0 1139.6,1071.0 1153.6,1081.6 1167.5,1093.0 1181.5,1103.6 1195.5,1111.2 1209.4,1122.6 1223.4,1131.1 1237.3,1136.8 1251.3,1137.5 1265.3,1141.5 1279.2,1138.3 1293.2,1138.3 1307.2,1140.0 1321.1,1142.0 1335.1,1149.2 1349.1,1153.8 1363.0,1158.0 1377.0,1161.0 1391.0,1164.3 1404.9,1166.5 1418.9,1167.7 1432.9,1169.4 1446.8,1171.2 1460.8,1172.9 1474.8,1174.6 1488.7,1175.1" fill="none" stroke="#FF0000" stroke-width="1.8" stroke-linejoin="round" clip-path="url(#clipd)"/>
<g fill="#00B000"><circle cx="1055.80" cy="865.7" r="7.25"/><circle cx="1069.76" cy="994.8" r="7.25"/><circle cx="1083.73" cy="996.0" r="7.25"/><circle cx="1097.69" cy="1086.1" r="7.25"/><circle cx="1111.66" cy="1060.5" r="7.25"/><circle cx="1125.62" cy="1084.0" r="7.25"/><circle cx="1139.59" cy="1074.2" r="7.25"/><circle cx="1153.55" cy="1100.0" r="7.25"/><circle cx="1167.52" cy="1124.3" r="7.25"/><circle cx="1181.48" cy="1151.2" r="7.25"/><circle cx="1195.45" cy="1130.0" r="7.25"/><circle cx="1209.41" cy="1099.1" r="7.25"/><circle cx="1223.38" cy="1151.1" r="7.25"/><circle cx="1237.35" cy="1163.9" r="7.25"/><circle cx="1251.31" cy="1163.9" r="7.25"/><circle cx="1265.27" cy="1111.9" r="7.25"/><circle cx="1279.24" cy="1099.1" r="7.25"/><circle cx="1293.20" cy="1177.5" r="7.25"/><circle cx="1307.17" cy="1165.0" r="7.25"/><circle cx="1321.13" cy="1165.4" r="7.25"/><circle cx="1335.10" cy="1177.8" r="7.25"/><circle cx="1349.07" cy="1178.3" r="7.25"/><circle cx="1363.03" cy="1177.8" r="7.25"/><circle cx="1376.99" cy="1162.6" r="7.25"/><circle cx="1390.96" cy="1162.6" r="7.25"/><circle cx="1404.92" cy="1178.3" r="7.25"/><circle cx="1418.89" cy="1178.0" r="7.25"/><circle cx="1432.86" cy="1177.8" r="7.25"/><circle cx="1446.82" cy="1178.3" r="7.25"/><circle cx="1460.78" cy="1178.0" r="7.25"/><circle cx="1474.75" cy="1177.0" r="7.25"/></g>
<polyline points="1055.8,865.7 1069.8,924.0 1083.7,981.0 1097.7,1015.0 1111.7,1045.0 1125.6,1072.0 1139.6,1086.0 1153.6,1098.0 1167.5,1113.0 1181.5,1123.0 1195.5,1131.7 1209.4,1138.2 1223.4,1138.9 1237.3,1137.3 1251.3,1139.4 1265.3,1143.8 1279.2,1146.6 1293.2,1149.8 1307.2,1156.6 1321.1,1165.4 1335.1,1170.8 1349.1,1171.7 1363.0,1171.9 1377.0,1172.5 1391.0,1172.8 1404.9,1173.3 1418.9,1174.6 1432.9,1176.0 1446.8,1177.3 1460.8,1178.5 1474.8,1179.5 1488.7,1179.8" fill="none" stroke="#00B000" stroke-width="1.8" stroke-linejoin="round" clip-path="url(#clipd)"/>
<g fill="#666666"><circle cx="1055.80" cy="923.7" r="7.25"/><circle cx="1069.76" cy="1031.8" r="7.25"/><circle cx="1083.73" cy="969.3" r="7.25"/><circle cx="1097.69" cy="1008.6" r="7.25"/><circle cx="1111.66" cy="1073.0" r="7.25"/><circle cx="1125.62" cy="1095.7" r="7.25"/><circle cx="1139.59" cy="1042.7" r="7.25"/><circle cx="1153.55" cy="1099.3" r="7.25"/><circle cx="1167.52" cy="1094.5" r="7.25"/><circle cx="1181.48" cy="1142.9" r="7.25"/><circle cx="1195.45" cy="1117.6" r="7.25"/><circle cx="1209.41" cy="1143.3" r="7.25"/><circle cx="1223.38" cy="1140.0" r="7.25"/><circle cx="1237.35" cy="1135.4" r="7.25"/><circle cx="1251.31" cy="1150.0" r="7.25"/><circle cx="1265.27" cy="1158.9" r="7.25"/><circle cx="1279.24" cy="1136.8" r="7.25"/><circle cx="1293.20" cy="1167.5" r="7.25"/><circle cx="1307.17" cy="1165.0" r="7.25"/><circle cx="1321.13" cy="1165.0" r="7.25"/><circle cx="1335.10" cy="1165.0" r="7.25"/><circle cx="1349.07" cy="1174.0" r="7.25"/><circle cx="1363.03" cy="1170.0" r="7.25"/><circle cx="1376.99" cy="1172.0" r="7.25"/><circle cx="1390.96" cy="1172.0" r="7.25"/><circle cx="1404.92" cy="1172.0" r="7.25"/><circle cx="1418.89" cy="1166.1" r="7.25"/><circle cx="1432.86" cy="1163.7" r="7.25"/><circle cx="1446.82" cy="1172.0" r="7.25"/><circle cx="1460.78" cy="1177.8" r="7.25"/><circle cx="1474.75" cy="1171.0" r="7.25"/></g>
<polyline points="1055.8,923.7 1069.8,961.0 1083.7,991.0 1097.7,1011.0 1111.7,1040.0 1125.6,1062.0 1139.6,1081.6 1153.6,1095.5 1167.5,1104.7 1181.5,1112.8 1195.5,1124.1 1209.4,1132.5 1223.4,1138.4 1237.3,1142.3 1251.3,1146.1 1265.3,1150.2 1279.2,1154.4 1293.2,1158.1 1307.2,1161.4 1321.1,1164.7 1335.1,1167.6 1349.1,1169.2 1363.0,1170.2 1377.0,1170.6 1391.0,1170.2 1404.9,1169.8 1418.9,1170.0 1432.9,1170.6 1446.8,1171.1 1460.8,1171.8 1474.8,1172.6 1488.7,1172.9" fill="none" stroke="#666666" stroke-width="1.8" stroke-linejoin="round" clip-path="url(#clipd)"/>
<g fill="#D95319"><circle cx="1055.80" cy="952.6" r="7.25"/><circle cx="1069.76" cy="995.9" r="7.25"/><circle cx="1083.73" cy="995.9" r="7.25"/><circle cx="1097.69" cy="1017.9" r="7.25"/><circle cx="1111.66" cy="1034.7" r="7.25"/><circle cx="1125.62" cy="1077.8" r="7.25"/><circle cx="1139.59" cy="1067.0" r="7.25"/><circle cx="1153.55" cy="1096.3" r="7.25"/><circle cx="1167.52" cy="1108.2" r="7.25"/><circle cx="1181.48" cy="1116.6" r="7.25"/><circle cx="1195.45" cy="1129.0" r="7.25"/><circle cx="1209.41" cy="1121.2" r="7.25"/><circle cx="1223.38" cy="1124.0" r="7.25"/><circle cx="1237.35" cy="1144.7" r="7.25"/><circle cx="1251.31" cy="1149.0" r="7.25"/><circle cx="1265.27" cy="1154.0" r="7.25"/><circle cx="1279.24" cy="1166.1" r="7.25"/><circle cx="1293.20" cy="1147.5" r="7.25"/><circle cx="1307.17" cy="1168.9" r="7.25"/><circle cx="1321.13" cy="1158.2" r="7.25"/><circle cx="1335.10" cy="1166.7" r="7.25"/><circle cx="1349.07" cy="1170.0" r="7.25"/><circle cx="1363.03" cy="1172.0" r="7.25"/><circle cx="1376.99" cy="1172.0" r="7.25"/><circle cx="1390.96" cy="1174.0" r="7.25"/><circle cx="1404.92" cy="1174.0" r="7.25"/><circle cx="1418.89" cy="1172.0" r="7.25"/><circle cx="1432.86" cy="1172.0" r="7.25"/><circle cx="1446.82" cy="1174.0" r="7.25"/><circle cx="1460.78" cy="1169.6" r="7.25"/><circle cx="1474.75" cy="1171.0" r="7.25"/></g>
<polyline points="1055.8,952.6 1069.8,976.0 1083.7,999.4 1097.7,1018.0 1111.7,1034.0 1125.6,1058.0 1139.6,1074.7 1153.6,1086.0 1167.5,1100.0 1181.5,1114.0 1195.5,1121.9 1209.4,1128.8 1223.4,1135.0 1237.3,1140.7 1251.3,1145.9 1265.3,1151.0 1279.2,1154.6 1293.2,1156.8 1307.2,1159.0 1321.1,1161.0 1335.1,1164.3 1349.1,1167.3 1363.0,1169.6 1377.0,1171.3 1391.0,1172.2 1404.9,1172.6 1418.9,1172.6 1432.9,1172.2 1446.8,1171.8 1460.8,1171.3 1474.8,1170.8 1488.7,1170.7" fill="none" stroke="#D95319" stroke-width="1.8" stroke-linejoin="round" clip-path="url(#clipd)"/>
<g fill="#EDB120"><circle cx="1055.80" cy="979.2" r="7.25"/><circle cx="1069.76" cy="1052.7" r="7.25"/><circle cx="1083.73" cy="1023.1" r="7.25"/><circle cx="1097.69" cy="1023.1" r="7.25"/><circle cx="1111.66" cy="1044.9" r="7.25"/><circle cx="1125.62" cy="1089.1" r="7.25"/><circle cx="1139.59" cy="1081.9" r="7.25"/><circle cx="1153.55" cy="1085.5" r="7.25"/><circle cx="1167.52" cy="1067.0" r="7.25"/><circle cx="1181.48" cy="1089.1" r="7.25"/><circle cx="1195.45" cy="1129.0" r="7.25"/><circle cx="1209.41" cy="1129.0" r="7.25"/><circle cx="1223.38" cy="1140.4" r="7.25"/><circle cx="1237.35" cy="1154.7" r="7.25"/><circle cx="1251.31" cy="1129.0" r="7.25"/><circle cx="1265.27" cy="1144.0" r="7.25"/><circle cx="1279.24" cy="1118.3" r="7.25"/><circle cx="1293.20" cy="1147.5" r="7.25"/><circle cx="1307.17" cy="1154.7" r="7.25"/><circle cx="1321.13" cy="1144.0" r="7.25"/><circle cx="1335.10" cy="1158.5" r="7.25"/><circle cx="1349.07" cy="1168.4" r="7.25"/><circle cx="1363.03" cy="1166.1" r="7.25"/><circle cx="1376.99" cy="1169.6" r="7.25"/><circle cx="1390.96" cy="1166.1" r="7.25"/><circle cx="1404.92" cy="1166.1" r="7.25"/><circle cx="1418.89" cy="1176.6" r="7.25"/><circle cx="1432.86" cy="1169.6" r="7.25"/><circle cx="1446.82" cy="1169.6" r="7.25"/><circle cx="1460.78" cy="1173.1" r="7.25"/><circle cx="1474.75" cy="1176.6" r="7.25"/></g>
<polyline points="1055.8,979.2 1069.8,1000.0 1083.7,1019.0 1097.7,1036.0 1111.7,1046.0 1125.6,1063.0 1139.6,1073.5 1153.6,1085.0 1167.5,1095.5 1181.5,1102.4 1195.5,1112.5 1209.4,1122.6 1223.4,1131.1 1237.3,1135.4 1251.3,1138.5 1265.3,1141.1 1279.2,1142.1 1293.2,1144.0 1307.2,1146.3 1321.1,1149.7 1335.1,1156.0 1349.1,1160.3 1363.0,1163.5 1377.0,1166.5 1391.0,1168.4 1404.9,1169.2 1418.9,1170.0 1432.9,1171.2 1446.8,1172.4 1460.8,1173.6 1474.8,1174.8 1488.7,1175.1" fill="none" stroke="#EDB120" stroke-width="1.8" stroke-linejoin="round" clip-path="url(#clipd)"/>
<circle cx="493.3" cy="122.7" r="7.1" fill="#0072BD"/>
<text transform="translate(520.5,133.9) scale(1,1.03)" class="l">No</text>
<circle cx="493.3" cy="163.7" r="7.1" fill="#FF0000"/>
<text transform="translate(520.5,174.9) scale(1,1.03)" class="l">Surg.</text>
<circle cx="493.3" cy="204.7" r="7.1" fill="#00B000"/>
<text transform="translate(520.5,215.9) scale(1,1.03)" class="l">KN95</text>
<circle cx="493.3" cy="245.7" r="7.1" fill="#666666"/>
<text transform="translate(520.5,256.9) scale(1,1.03)" class="l">SL-P</text>
<circle cx="493.3" cy="286.7" r="7.1" fill="#D95319"/>
<text transform="translate(520.5,297.9) scale(1,1.03)" class="l">U-SL-T</text>
<circle cx="493.3" cy="327.7" r="7.1" fill="#EDB120"/>
<text transform="translate(520.5,338.9) scale(1,1.03)" class="l">U-DL-T</text>
<line x1="474.7" y1="368.7" x2="512" y2="368.7" stroke="#666666" stroke-width="1.4"/>
<text transform="translate(520.5,379.9) scale(1,1.03)" class="l">Smoothed</text>
</svg></body></html>
